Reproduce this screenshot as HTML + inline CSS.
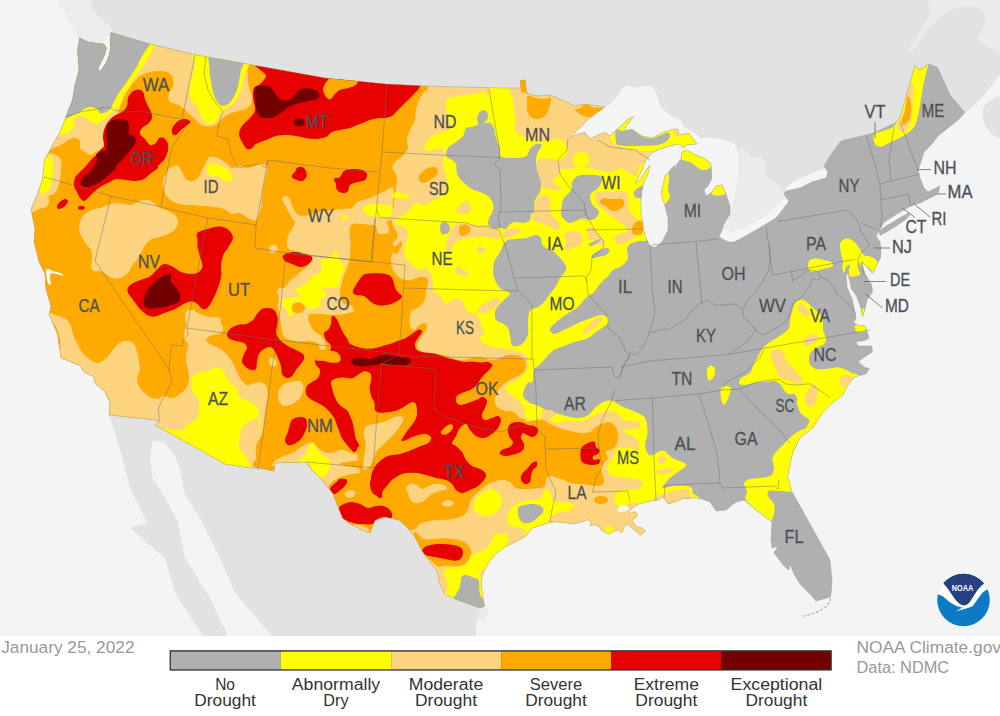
<!DOCTYPE html>
<html lang="en"><head><meta charset="utf-8"><title>U.S. Drought Monitor - January 25, 2022</title>
<style>
html,body{margin:0;padding:0;background:#fff;}
body{width:1000px;height:716px;position:relative;overflow:hidden;font-family:"Liberation Sans",sans-serif;}
</style></head><body>
<svg width="1000" height="716" viewBox="0 0 1000 716" style="position:absolute;left:0;top:0;display:block">
<defs><clipPath id="us">
<path d="M79.5,38 77.5,50 79,70 75,85 72.5,100 65.5,117.5 61,130 50,150 44.5,160 42.5,179 37.5,194 31,209 35,229 34,241.5 39,261.5 45,274 46,289 51,306.5 49,314 57.5,334 61,358 80,365.5 84,372 94,377 95,383 105,392 110,402 109,415 160,420.5 155,425 225,464 250,468 259,468 274,471 275,463 306,462 312.5,470.5 322.5,480.5 332.5,493 337.5,505.5 342.5,518 350,524 360,529 370,533 375,520.5 385,517 400,520.5 410,530.5 415,537 422.5,552 430,562 437.5,572 439,582 445,594.5 455,599 470,604.5 480,608 484.5,606 482.5,594.5 481,582 482.5,574.5 487.5,564.5 495,554.5 505,547 515,542 525,537 532.5,528 549.6,522.4 556,521.9 564,522.4 572,524 580,522.4 584.8,520.8 588,519.7 591.2,522.4 590.4,525.6 594.4,524.8 599.2,526.4 601.6,530.4 605.6,532.8 610.4,533.6 614.4,531.2 618.4,529.9 621.6,532.8 623.2,529.6 624.8,525.6 627.2,524 631.2,527.2 636,531.2 640,535.2 645.6,531.2 642.4,528 637.6,527.2 634.4,524 632,520.8 634.4,518.4 637.6,516 636,512 632.8,512 630.4,514.4 628.8,511.2 632,508.8 634.4,506.4 639.2,504 645.6,502.4 652,500.8 658.4,500 662.4,496.8 664.8,499.2 668,504 672.8,502.4 677.6,500.8 683.2,498.4 688.8,498.4 693.6,497.6 700,498.5 710,502 716,511 726,510 736,502 744,500 756,510 768,519 772,522 771,540 772,548 778,546 774,553 784,566 789,570 790,564 794,574 800,584 812,596 816,601 830,597 831,594 832,580 830,560 820,542 810,524 800,506 792,492 789,480 787.5,478 792.5,453 800,438 812.5,428 822.5,413 832.5,403 842.5,395.5 848,385 853.6,377.4 860.3,375.2 866,374 869.3,368.5 865,367.4 858,361.8 862.6,358.4 872.6,351.7 871.5,346 858,346 856,341.7 865,340.5 869,338 867,331.6 865,326 858,325 853.6,322.7 856,318 854.7,311.5 852.5,300 847,287 846,276 848,273 849.5,280 851.5,289 856.5,296 860.5,307 862.5,317 865,309 867,300 872.6,291.4 871.5,284.7 865,273.5 863,268 862,262 866,266 872.6,273.5 877,264.5 880.5,258 881,250 880,242 876,236 880,229 884,222.5 896,214.5 908,207.5 916,204 920,203 928,199 938,194 940,186 936,188 928,192 924,188 920,178 918,170 921,162 924,152 932,144 938,136 948,128 958,120 965,112.5 950,95 937.5,67.5 929,64 920,70 915,65.5 910,82.5 905,100 900,117.5 896,122.5 875,132.5 866,135 842.5,140.5 840,142 830,156 824,166 828,172 826,178 812,182 800,188 786,191 784,194 789,201 784,208 776,218 766,224 756,230 744,237 734,242 728,242 719,237 722,230 724,224 730,214 730,206 726,194 722,185 716,186 711,193 706,196 704,190 708,186 712,178 711,164 706,159 696,155 686,150 682,152 681,159 677,164 674,172 675,165 672,168 665,176 661,194 665,206 668,218 668,230 662,242 655,247.6 650,246 645,236 643,226 641,210 641,200 642,190 644,182 648,174 650,165 645,172 640,180 635,183 637,180 642,170 646,160 652,153 660,149 670,146 678,144 684,148 686,145 697,144 689,133 679,135 678,129 674,129 664,132 652,138 642,136 632,129 625,131 626,126 631,120 634,116.5 628,119 622,125 616,130 610,136 605,132 598,135 590,139 585,132.5 578,134 570,137.5 587.5,120 605,107 585,104 575,106 565,101 550,95 537.5,96 527,93.5 525,80 520.5,80 520.5,88 500,88 425,86 386,84 325,78 250,64.5 194,54.5 150,44 111,32.5 110,40 110.5,48 109,56 106,63 102,69 99.5,71.5 98,69 101,62 104.5,55 106.5,48 104,44 98,43.5 88,42Z"/>
<path d="M879,231 886,226 894,221.5 902,216.5 909,213 909.5,215.5 905,220 897,225.5 888,231 880,235.5Z"/>
</clipPath></defs>
<rect width="1000" height="636" fill="#f4f4f4"/>
<path d="M60,0 80,38 111,32.5 150,44 194,54.5 250,64.5 325,78 386,84 425,86 500,88 520.5,89 527,94.5 537.5,97 550,96 565,103 575,108 585,106 605,108 630,112 700,150 730,200 720,237 790,201 786,191 830,170 824,166 830,156 840,143 843,141 866,136 875,133.5 896,123.5 900,118 905,100 910,82.5 915,66 920,71 929,65 937,67.5 950,95 965.6,113 977,102 987,92 997,78 1000,74 1000,0Z" fill="#e2e2e2"/>
<path d="M934,-3C921.8,-0.5 932.5,6 930,12C927.5,18 922.5,26.8 919,33C915.5,39.2 910.2,46 909,49C907.8,52 909.4,53.3 912,51C914.6,48.7 920.2,40.2 924.5,35C928.8,29.8 933.4,23.7 938,19.5C942.6,15.3 946.8,12.2 952,10C957.2,7.8 964.3,5.7 969.5,6C974.7,6.3 980.4,8.8 983,12C985.6,15.2 986,20.5 985,25C984,29.5 977,35.7 977,39C977,42.3 981.7,43 985,45C988.3,47 994,48.8 997,51C1000,53.2 1002,67 1003,58C1004,49 1014.5,7.2 1003,-3C991.5,-13.2 946.2,-5.5 934,-3Z" fill="#ebebeb"/>
<path d="M983,109.5C983.7,105.7 985.7,103.9 989,102C992.3,100.1 1000.7,92.5 1003,98C1005.3,103.5 1004.7,128.8 1003,135C1001.3,141.2 996,136.7 993,135C990,133.3 986.7,129.2 985,125C983.3,120.8 982.3,113.3 983,109.5Z" fill="#e2e2e2"/>
<path d="M109,415 160,420.5 155,425 225,464 250,468 259,468 274,471 275,463 306,462 312.5,470.5 322.5,480.5 332.5,493 337.5,505.5 342.5,518 350,524 360,529 370,533 375,520.5 385,517 400,520.5 410,530.5 415,537 422.5,552 430,562 437.5,572 439,582 445,594.5 455,599 470,604.5 480,608 484.5,606 488,608.5 487.5,614.5 484,620 476.5,621.5 475.6,636 272,636 235,593 220,558 200,518 185,495 180,470 175,455 163,442 152.5,441 150,458 152.5,478 165,498 177.5,520.5 185,558 210,598 228,636 203,636 175,593 165,558 130,528 147.5,523 130,488 122.5,458 115,433Z" fill="#e2e2e2"/>
<path d="M479.8,609C480.7,607.7 482.6,607.1 484,607C485.4,606.9 487.6,607 488.2,608.3C488.8,609.6 488.2,612.6 487.5,614.6C486.8,616.6 485.9,619 484,620.2C482.1,621.4 477.7,621.8 476.3,621.6C474.9,621.4 475.2,620 475.6,618.8C476,617.6 477.7,616.2 478.4,614.6C479.1,613 478.9,610.3 479.8,609Z" fill="#ebebeb"/>
<path d="M58,-5C54,-2.2 61.8,7 64,12C66.2,17 68.5,20.7 71,25C73.5,29.3 76.2,35.2 79,38C81.8,40.8 84.8,40.8 88,42C91.2,43.2 94.2,46.5 98,45C101.8,43.5 109,36.2 111,33C113,29.8 111.8,28.5 110,26C108.2,23.5 103,21 100,18C97,15 94,11.8 92,8C90,4.2 93.7,-2.8 88,-5C82.3,-7.2 62,-7.8 58,-5Z" fill="#ececec"/>
<path d="M737,150C738.2,148.3 742.5,148.7 745,150C747.5,151.3 749.5,157 752,158C754.5,159 757.8,154.8 760,156C762.2,157.2 764,161.7 765,165C766,168.3 763.8,172.8 766,176C768.2,179.2 775,181 778,184C781,187 782.2,191.2 784,194C785.8,196.8 789.3,200 789,201C788.7,202 784.2,199.2 782,200C779.8,200.8 778.3,203.7 776,206C773.7,208.3 771.3,211.3 768,214C764.7,216.7 760,219.7 756,222C752,224.3 748,226.3 744,228C740,229.7 735.3,231.7 732,232C728.7,232.3 725.2,231 724,230C722.8,229 724.2,228.3 725,226C725.8,223.7 727.8,219.7 729,216C730.2,212.3 730.8,208.3 732,204C733.2,199.7 735,195 736,190C737,185 737.7,179 738,174C738.3,169 738.2,164 738,160C737.8,156 735.8,151.7 737,150Z" fill="#ebebeb"/>
<path d="M605,107C608.8,104.3 607.9,105.8 610,104C612.1,102.2 615,99 617.5,96C620,93 622.1,87.4 625,86C627.9,84.6 630.8,87.5 635,87.5C639.2,87.5 646.5,85.2 650,86C653.5,86.8 654.3,89.3 656,92.5C657.7,95.7 657.7,101.2 660,105C662.3,108.8 666.7,112.5 670,115C673.3,117.5 677.5,117.9 680,120C682.5,122.1 682.1,125 685,127.5C687.9,130 695,132.2 697.5,135C700,137.8 701.2,141.5 700,144C698.8,146.5 700,149 690,150C680,151 655,150.8 640,150C625,149.2 611.7,147.1 600,145C588.3,142.9 572.1,141.7 570,137.5C567.9,133.3 581.7,125.1 587.5,120C593.3,114.9 601.2,109.7 605,107Z" fill="#f5f5f5"/>
<path d="M697,140C699.3,138 701.2,138.3 704,138C706.8,137.7 710.7,137.7 714,138C717.3,138.3 720.7,139 724,140C727.3,141 731.8,142.3 734,144C736.2,145.7 736.3,147.3 737,150C737.7,152.7 737.8,156 738,160C738.2,164 738.3,169 738,174C737.7,179 737,185 736,190C735,195 733.2,199.7 732,204C730.8,208.3 730.2,212.3 729,216C727.8,219.7 726.5,222.7 725,226C723.5,229.3 722.5,235.3 720,236C717.5,236.7 713.3,236 710,230C706.7,224 703.3,213.3 700,200C696.7,186.7 690.5,160 690,150C689.5,140 694.7,142 697,140Z" fill="#f5f5f5"/>
<path d="M719,237C718.3,235 721.8,230.8 724,230C726.2,229.2 728.7,232.3 732,232C735.3,231.7 740,229.7 744,228C748,226.3 752,224.3 756,222C760,219.7 764.7,216.7 768,214C771.3,211.3 773.7,208.3 776,206C778.3,203.7 779.8,200.8 782,200C784.2,199.2 788.7,199.7 789,201C789.3,202.3 786.2,205.2 784,208C781.8,210.8 779,215.3 776,218C773,220.7 769.3,222 766,224C762.7,226 759.7,227.8 756,230C752.3,232.2 747.7,235 744,237C740.3,239 736.7,241.2 734,242C731.3,242.8 730.5,242.8 728,242C725.5,241.2 719.7,239 719,237Z" fill="#f5f5f5"/>
<path d="M784,194C784.5,193 785.3,188 789,185C792.7,182 800.2,178.7 806,176C811.8,173.3 820,169.7 824,169C828,168.3 829.7,170.5 830,172C830.3,173.5 829,176.3 826,178C823,179.7 816.3,180.3 812,182C807.7,183.7 804.3,186.5 800,188C795.7,189.5 788.7,190 786,191C783.3,192 783.5,195 784,194Z" fill="#f5f5f5"/>
<path d="M79.5,38 77.5,50 79,70 75,85 72.5,100 65.5,117.5 61,130 50,150 44.5,160 42.5,179 37.5,194 31,209 35,229 34,241.5 39,261.5 45,274 46,289 51,306.5 49,314 57.5,334 61,358 80,365.5 84,372 94,377 95,383 105,392 110,402 109,415 160,420.5 155,425 225,464 250,468 259,468 274,471 275,463 306,462 312.5,470.5 322.5,480.5 332.5,493 337.5,505.5 342.5,518 350,524 360,529 370,533 375,520.5 385,517 400,520.5 410,530.5 415,537 422.5,552 430,562 437.5,572 439,582 445,594.5 455,599 470,604.5 480,608 484.5,606 482.5,594.5 481,582 482.5,574.5 487.5,564.5 495,554.5 505,547 515,542 525,537 532.5,528 549.6,522.4 556,521.9 564,522.4 572,524 580,522.4 584.8,520.8 588,519.7 591.2,522.4 590.4,525.6 594.4,524.8 599.2,526.4 601.6,530.4 605.6,532.8 610.4,533.6 614.4,531.2 618.4,529.9 621.6,532.8 623.2,529.6 624.8,525.6 627.2,524 631.2,527.2 636,531.2 640,535.2 645.6,531.2 642.4,528 637.6,527.2 634.4,524 632,520.8 634.4,518.4 637.6,516 636,512 632.8,512 630.4,514.4 628.8,511.2 632,508.8 634.4,506.4 639.2,504 645.6,502.4 652,500.8 658.4,500 662.4,496.8 664.8,499.2 668,504 672.8,502.4 677.6,500.8 683.2,498.4 688.8,498.4 693.6,497.6 700,498.5 710,502 716,511 726,510 736,502 744,500 756,510 768,519 772,522 771,540 772,548 778,546 774,553 784,566 789,570 790,564 794,574 800,584 812,596 816,601 830,597 831,594 832,580 830,560 820,542 810,524 800,506 792,492 789,480 787.5,478 792.5,453 800,438 812.5,428 822.5,413 832.5,403 842.5,395.5 848,385 853.6,377.4 860.3,375.2 866,374 869.3,368.5 865,367.4 858,361.8 862.6,358.4 872.6,351.7 871.5,346 858,346 856,341.7 865,340.5 869,338 867,331.6 865,326 858,325 853.6,322.7 856,318 854.7,311.5 852.5,300 847,287 846,276 848,273 849.5,280 851.5,289 856.5,296 860.5,307 862.5,317 865,309 867,300 872.6,291.4 871.5,284.7 865,273.5 863,268 862,262 866,266 872.6,273.5 877,264.5 880.5,258 881,250 880,242 876,236 880,229 884,222.5 896,214.5 908,207.5 916,204 920,203 928,199 938,194 940,186 936,188 928,192 924,188 920,178 918,170 921,162 924,152 932,144 938,136 948,128 958,120 965,112.5 950,95 937.5,67.5 929,64 920,70 915,65.5 910,82.5 905,100 900,117.5 896,122.5 875,132.5 866,135 842.5,140.5 840,142 830,156 824,166 828,172 826,178 812,182 800,188 786,191 784,194 789,201 784,208 776,218 766,224 756,230 744,237 734,242 728,242 719,237 722,230 724,224 730,214 730,206 726,194 722,185 716,186 711,193 706,196 704,190 708,186 712,178 711,164 706,159 696,155 686,150 682,152 681,159 677,164 674,172 675,165 672,168 665,176 661,194 665,206 668,218 668,230 662,242 655,247.6 650,246 645,236 643,226 641,210 641,200 642,190 644,182 648,174 650,165 645,172 640,180 635,183 637,180 642,170 646,160 652,153 660,149 670,146 678,144 684,148 686,145 697,144 689,133 679,135 678,129 674,129 664,132 652,138 642,136 632,129 625,131 626,126 631,120 634,116.5 628,119 622,125 616,130 610,136 605,132 598,135 590,139 585,132.5 578,134 570,137.5 587.5,120 605,107 585,104 575,106 565,101 550,95 537.5,96 527,93.5 525,80 520.5,80 520.5,88 500,88 425,86 386,84 325,78 250,64.5 194,54.5 150,44 111,32.5 110,40 110.5,48 109,56 106,63 102,69 99.5,71.5 98,69 101,62 104.5,55 106.5,48 104,44 98,43.5 88,42Z" fill="#b0b0b0"/>
<path d="M879,231 886,226 894,221.5 902,216.5 909,213 909.5,215.5 905,220 897,225.5 888,231 880,235.5Z" fill="#b0b0b0"/>
<g clip-path="url(#us)">
<path d="M-10,-10C111.7,-120 600.8,-28.3 720,-10C839.2,8.3 707.5,73.7 705,100C702.5,126.3 708.7,139.8 705,148C701.3,156.2 689.8,148.3 683,149C676.2,149.7 668.7,150.2 664,152C659.3,153.8 657,156.2 655,160C653,163.8 652.8,168.3 652,175C651.2,181.7 650.7,189.7 650,200C649.3,210.3 650,230.2 648,237C646,243.8 641,239.8 638,241C635,242.2 631.8,242.5 630,244C628.2,245.5 627.3,247.7 627,250C626.7,252.3 628.5,255.7 628,258C627.5,260.3 625.7,262.3 624,264C622.3,265.7 619.8,267 618,268C616.2,269 614.7,268.7 613,270C611.3,271.3 610.2,273.7 608,276C605.8,278.3 602.3,281.3 600,284C597.7,286.7 596,290 594,292C592,294 589.7,294.7 588,296C586.3,297.3 585.7,298.2 584,300C582.3,301.8 580.3,305 578,307C575.7,309 573,310 570,312C567,314 563,316.7 560,319C557,321.3 553.7,324.2 552,326C550.3,327.8 549.7,328.7 550,330C550.3,331.3 551.7,334 554,334C556.3,334 561,331.3 564,330C567,328.7 569.7,327.2 572,326C574.3,324.8 575.7,324 578,323C580.3,322 583.3,321 586,320C588.7,319 591.3,317.8 594,317C596.7,316.2 599.7,314.8 602,315C604.3,315.2 607,316.7 608,318C609,319.3 609,321.3 608,323C607,324.7 604,326.5 602,328C600,329.5 598,330.5 596,332C594,333.5 592.3,335.7 590,337C587.7,338.3 584.7,339.2 582,340C579.3,340.8 577,341 574,342C571,343 567,344.8 564,346C561,347.2 558.5,347.7 556,349C553.5,350.3 551,352.2 549,354C547,355.8 545.8,358 544,360C542.2,362 539.7,364.3 538,366C536.3,367.7 534.9,367.3 534,370C533.1,372.7 533.5,379.8 532.4,382C531.3,384.2 529.1,380.8 527.5,383C525.9,385.2 522.6,392.2 523,395.5C523.4,398.8 527.6,401.3 530,403C532.4,404.7 534.2,404 537.5,405.5C540.8,407 546.2,410.4 550,411.8C553.8,413.2 555.8,413.2 560,414.2C564.2,415.2 570.4,417.8 575,418C579.6,418.2 583.8,417.6 587.5,415.5C591.2,413.4 593.8,408 597.5,405.5C601.2,403 605.8,400.3 610,400.5C614.2,400.7 618.3,404.9 622.5,406.8C626.7,408.7 631.2,409.9 635,411.8C638.8,413.7 642.9,414.5 645,418C647.1,421.5 647.5,428.4 647.5,433C647.5,437.6 644.6,441.8 645,445.5C645.4,449.2 647.1,454.7 650,455.5C652.9,456.3 658.8,450.1 662.5,450.5C666.2,450.9 668.5,455.7 672.5,458C676.5,460.3 685,462.1 686.2,464.2C687.5,466.3 682.7,468.2 680,470.5C677.3,472.8 672.9,475.1 670,478C667.1,480.9 661.7,486.8 662.5,488C663.3,489.2 670.4,485.7 675,485.5C679.6,485.3 687.1,485.6 690,486.8C692.9,488.1 692.2,489.1 692.5,493C692.8,496.9 707.4,492.2 692,510C676.6,527.8 632,576.7 600,600C568,623.3 601.7,641.7 500,650C398.3,658.3 75,760 -10,650C-95,540 -131.7,100 -10,-10Z" fill="#ffff00"/>
<path d="M796,302C797.3,300.9 800,299.4 802,299.6C804,299.8 806,301.4 808,303C810,304.6 812,307.2 814,309C816,310.8 818.5,311.8 820,314C821.5,316.2 822.5,319.3 823,322C823.5,324.7 822.5,327.3 823,330C823.5,332.7 825.8,335.7 826,338C826.2,340.3 825.3,342.5 824,344C822.7,345.5 820,345.8 818,347C816,348.2 813.5,349.3 812,351C810.5,352.7 809.3,354.8 809,357C808.7,359.2 808.8,362 810,364C811.2,366 813.3,368.2 816,369C818.7,369.8 822.7,369.2 826,369C829.3,368.8 833,367.6 836,367.6C839,367.6 841.3,368.1 844,369C846.7,369.9 849.7,372 852,373C854.3,374 856,373.5 858,375C860,376.5 866.3,377.5 864,382C861.7,386.5 850,396.7 844,402C838,407.3 832.7,409.3 828,414C823.3,418.7 819,426.8 816,430C813,433.2 812.3,432.7 810,433.2C807.7,433.7 802.3,434.4 802,433.2C801.7,432 806.8,428.2 808,426C809.2,423.8 809.7,421.7 809,420C808.3,418.3 805.5,417.3 804,416C802.5,414.7 801.2,414 800,412C798.8,410 797.5,406.3 797,404C796.5,401.7 797.5,399.7 797,398C796.5,396.3 795.5,394.7 794,394C792.5,393.3 789.7,394.7 788,394C786.3,393.3 785.3,391.7 784,390C782.7,388.3 781.7,385.5 780,384C778.3,382.5 776.3,381.3 774,381C771.7,380.7 768.7,381.8 766,382C763.3,382.2 760.7,382.1 758,382.4C755.3,382.7 752.5,383.6 750,384C747.5,384.4 744.8,385.2 743,385C741.2,384.8 739.2,384.2 739,383C738.8,381.8 740.2,379.7 742,378C743.8,376.3 748.2,375 750,373C751.8,371 751.8,368.5 753,366C754.2,363.5 755.3,361 757,358C758.7,355 760.8,350.7 763,348C765.2,345.3 767.5,343.8 770,342C772.5,340.2 775.7,338.5 778,337C780.3,335.5 782.2,334.5 784,333C785.8,331.5 788,330.2 789,328C790,325.8 789.5,322.7 790,320C790.5,317.3 791.3,314.3 792,312C792.7,309.7 793.3,307.7 794,306C794.7,304.3 794.7,303.1 796,302Z" fill="#ffff00"/>
<path d="M721,391C721.7,388.7 724.3,388.5 726,388C727.7,387.5 730.5,386.7 731,388C731.5,389.3 730,393.3 729,396C728,398.7 726.2,403 725,404C723.8,405 722.7,404.2 722,402C721.3,399.8 720.3,393.3 721,391Z" fill="#ffff00"/>
<path d="M861.2,310C861.6,308.6 863,308.1 863.6,308.6C864.2,309.1 864.9,311.4 864.8,313C864.7,314.6 863.8,317.7 863.2,318.4C862.6,319.1 861.5,318.4 861.2,317C860.9,315.6 860.8,311.4 861.2,310Z" fill="#ffff00"/>
<path d="M854.4,320C854.6,319.5 855.9,318.9 856.4,319.2C856.9,319.5 857.4,321.1 857.2,321.6C857,322.1 855.7,322.7 855.2,322.4C854.7,322.1 854.2,320.5 854.4,320Z" fill="#ffff00"/>
<path d="M855,326C855.7,324.8 858.3,324.1 860,324C861.7,323.9 864.1,324.4 865,325.6C865.9,326.8 866.4,329.9 865.6,331C864.8,332.1 861.6,332.4 860,332.4C858.4,332.4 856.8,332.1 856,331C855.2,329.9 854.3,327.2 855,326Z" fill="#ffff00"/>
<path d="M744,483C744.5,480.8 747.3,479.8 750,479C752.7,478.2 756.5,478.6 760,478C763.5,477.4 768.7,477.2 771,475.5C773.3,473.8 773.8,470.9 774,468C774.2,465.1 771.9,460.9 772.5,458C773.1,455.1 775.4,453 777.5,450.5C779.6,448 782.5,445.5 785,443C787.5,440.5 790,437.6 792.5,435.5C795,433.4 797.8,431.8 800,430.5C802.2,429.2 804,429.8 806,428C808,426.2 806.3,424.7 812,420C817.7,415.3 833.7,400 840,400C846.3,400 851.7,413.3 850,420C848.3,426.7 836.7,430 830,440C823.3,450 815.7,471.3 810,480C804.3,488.7 799,490 796,492C793,494 794.7,492.2 792,492C789.3,491.8 783.8,491.2 780,491C776.2,490.8 771,490.2 769,491C767,491.8 767.2,493.8 768,496C768.8,498.2 773,501 774,504C775,507 774.5,511.2 774,514C773.5,516.8 772.5,518.8 771,521C769.5,523.2 767.5,527.5 765,527C762.5,526.5 756.8,520.2 756,518C755.2,515.8 761.7,517 760,514C758.3,511 748.2,503.7 746,500C743.8,496.3 747.3,494.8 747,492C746.7,489.2 743.5,485.2 744,483Z" fill="#ffff00"/>
<path d="M707.5,368C708.2,366.6 710,365.3 711.2,365.5C712.5,365.7 714.6,367.3 715,369.2C715.4,371.1 714.8,374.9 713.8,376.8C712.8,378.7 709.9,380.9 708.8,380.5C707.7,380.1 707.2,376.3 707,374.2C706.8,372.1 706.8,369.4 707.5,368Z" fill="#ffff00"/>
<path d="M721.2,388C722,386 724.7,386 726.2,386C727.7,386 729.8,386 730,388C730.2,390 728.5,395.3 727.5,398C726.5,400.7 724.8,404.2 723.8,404.2C722.8,404.2 721.6,400.7 721.2,398C720.8,395.3 720.4,390 721.2,388Z" fill="#ffff00"/>
<path d="M740,379.2C740.4,377.8 744.3,376 746.2,375.5C748.1,375 750.6,374.9 751.2,376C751.8,377.1 751.2,380.4 750,381.8C748.8,383.2 745.5,384.6 743.8,384.2C742.1,383.8 739.6,380.6 740,379.2Z" fill="#ffff00"/>
<path d="M808,265.2C808,263.4 808.6,261.3 810,260.2C811.4,259.1 813.7,258.5 816.2,258.5C818.7,258.5 822.3,259.5 825,260.2C827.7,260.9 831.3,261.8 832.5,262.8C833.7,263.9 833.2,265.6 832,266.5C830.8,267.4 827.6,267.8 825,268.5C822.4,269.2 818.7,270.6 816.2,271C813.7,271.4 811.4,272 810,271C808.6,270 808,267 808,265.2Z" fill="#ffff00"/>
<path d="M840,244C840.4,241.6 842.1,240.3 843.8,239.5C845.5,238.7 847.9,238.2 850,239C852.1,239.8 854.3,241.9 856.2,244C858.1,246.1 859.9,249.6 861.2,251.5C862.5,253.4 862.3,254.4 863.8,255.2C865.3,256 867.9,255.7 870,256.5C872.1,257.3 874.9,258.8 876.2,260.2C877.5,261.6 878.2,263.5 878,265.2C877.8,266.9 875.8,268.7 875,270.2C874.2,271.7 873.8,274.2 873,274C872.2,273.8 871.6,270.2 870.5,269C869.4,267.8 867.8,267.4 866.2,267C864.7,266.6 862.4,267.4 861.2,266.5C860,265.6 859.4,261.5 858.8,261.5C858.2,261.5 857.3,264.4 857.5,266.5C857.7,268.6 860.4,272.4 860,274C859.6,275.6 856.7,275.6 855,276C853.3,276.4 851,277.2 850,276.5C849,275.8 848.8,273.4 848.8,271.5C848.8,269.6 850.4,266 850,265.2C849.6,264.4 847.1,265.2 846.2,266.5C845.3,267.8 845.1,272.4 844.5,272.8C843.9,273.2 842.8,270.9 842.5,269C842.2,267.1 843.2,264 843,261.5C842.8,259 841.7,256.9 841.2,254C840.7,251.1 839.6,246.4 840,244Z" fill="#ffff00"/>
<path d="M913.8,62.5C915.3,62.5 917.6,69.8 920,70C922.4,70.2 927.2,62.5 928,63.8C928.8,65 925.9,73.1 925,77.5C924.1,81.9 923.3,85.4 922.5,90C921.7,94.6 920.8,100.4 920,105C919.2,109.6 918.5,113.8 917.5,117.5C916.5,121.2 915.9,124.6 913.8,127.5C911.7,130.4 907.7,133.1 905,135C902.3,136.9 900,137.6 897.5,138.8C895,140.1 892.5,141.3 890,142.5C887.5,143.7 884.8,145.7 882.5,146.2C880.2,146.7 877.7,146.5 876.2,145.5C874.8,144.5 874.1,141.9 873.8,140C873.5,138.1 872.8,135.3 874.2,133.8C875.7,132.3 879.5,132.2 882.5,131.2C885.5,130.1 890.2,128.9 892.5,127.5C894.8,126 895,124.6 896.2,122.5C897.5,120.4 898.7,118.3 900,115C901.3,111.7 902.8,106.7 903.8,102.5C904.8,98.3 905.4,94.2 906.2,90C907,85.8 908,80.8 908.8,77.5C909.6,74.2 910.4,72.5 911.2,70C912,67.5 912.3,62.5 913.8,62.5Z" fill="#ffff00"/>
<path d="M680,153C680.5,151.3 682.3,149.3 684,149C685.7,148.7 688,150.2 690,151C692,151.8 693.3,152.8 696,154C698.7,155.2 703.3,156.6 706,158C708.7,159.4 711.3,160.7 712,162.4C712.7,164.1 711.7,166.7 710,168C708.3,169.3 704.2,170.2 702,170C699.8,169.8 698.7,168.2 697,167C695.3,165.8 693.8,164 692,163C690.2,162 687.8,161.7 686,161C684.2,160.3 682,160.3 681,159C680,157.7 679.5,154.7 680,153Z" fill="#ffff00"/>
<path d="M663,174C663.8,172.5 667,170 668,171C669,172 669,176.8 669,180C669,183.2 667.8,187.3 668,190C668.2,192.7 670.2,194 670,196C669.8,198 668.2,200.7 667,202C665.8,203.3 664.2,205.3 663,204C661.8,202.7 660.3,197 660,194C659.7,191 660.5,188.3 661,186C661.5,183.7 662.7,182 663,180C663.3,178 662.2,175.5 663,174Z" fill="#ffff00"/>
<path d="M712,190C712.6,188.6 714.5,186.9 716,186C717.5,185.1 719.6,184 721,184.4C722.4,184.8 723.7,186.8 724.4,188.4C725.1,190 726.1,192.8 725,194C723.9,195.2 720.1,195.5 718,195.6C715.9,195.7 713.4,195.3 712.4,194.4C711.4,193.5 711.4,191.4 712,190Z" fill="#ffff00"/>
<path d="M538,160C541.2,157.7 552.3,158.5 556,160C559.7,161.5 559.7,166.3 560,169C560.3,171.7 559.2,174.2 558,176C556.8,177.8 553.3,178.5 553,180C552.7,181.5 554.5,183.5 556,185C557.5,186.5 562,188.2 562,189C562,189.8 558.7,190.2 556,190C553.3,189.8 548.7,189 546,188C543.3,187 541.5,186.3 540,184C538.5,181.7 537.3,178 537,174C536.7,170 534.8,162.3 538,160Z" fill="#fcd37f"/>
<path d="M537,198C538.3,195.5 541,195.2 543,195C545,194.8 547.8,194.8 549,197C550.2,199.2 549.5,204.8 550,208C550.5,211.2 550.8,214 552,216C553.2,218 555.7,218.3 557,220C558.3,221.7 559.8,224.3 560,226C560.2,227.7 559.7,229.8 558,230C556.3,230.2 552.5,228 550,227C547.5,226 545.5,225 543,224C540.5,223 536.8,222.3 535,221C533.2,219.7 532,217.8 532,216C532,214.2 534.2,213 535,210C535.8,207 535.7,200.5 537,198Z" fill="#fcd37f"/>
<path d="M502,234C502.3,232.7 505.7,231 508,230C510.3,229 514,227.8 516,228C518,228.2 520.3,229.8 520,231C519.7,232.2 516.3,233.8 514,235C511.7,236.2 508,238.2 506,238C504,237.8 501.7,235.3 502,234Z" fill="#fcd37f"/>
<path d="M564,234C565,232.5 569.3,231.2 572,231C574.7,230.8 578.3,231.5 580,233C581.7,234.5 582.4,238 582.4,240C582.4,242 581.7,243.7 580,245C578.3,246.3 574,246.8 572,248C570,249.2 569.2,252.3 568,252C566.8,251.7 565.3,248 565,246C564.7,244 566.2,242 566,240C565.8,238 563,235.5 564,234Z" fill="#fcd37f"/>
<path d="M596,193C597.3,191.2 601.3,191.2 604,191C606.7,190.8 609.3,192 612,192C614.7,192 617.5,190.8 620,191C622.5,191.2 625.5,191.5 627,193C628.5,194.5 628.8,197.5 629,200C629.2,202.5 627.5,205.7 628,208C628.5,210.3 630.3,212 632,214C633.7,216 636.3,218.7 638,220C639.7,221.3 641.7,219.7 642.4,222C643.1,224.3 643.1,231.7 642.4,234C641.7,236.3 640.1,235 638,236C635.9,237 632.7,238.7 630,240C627.3,241.3 624.3,243.5 622,244C619.7,244.5 617.3,244 616,243C614.7,242 613.3,239.5 614,238C614.7,236.5 617.7,235.3 620,234C622.3,232.7 628,232 628,230C628,228 622.7,224.2 620,222C617.3,219.8 614.3,218.7 612,217C609.7,215.3 608,213.7 606,212C604,210.3 601.7,208.7 600,207C598.3,205.3 596.7,204.3 596,202C595.3,199.7 594.7,194.8 596,193Z" fill="#fcd37f"/>
<path d="M587.6,229C588.3,227.2 590.6,226.7 592,227C593.4,227.3 594.7,229.5 596,231C597.3,232.5 598.7,234.3 600,236C601.3,237.7 603.5,239.5 604,241C604.5,242.5 604,244.5 603,245C602,245.5 599.7,244.7 598,244C596.3,243.3 594.7,242 593,241C591.3,240 588.9,240 588,238C587.1,236 586.9,230.8 587.6,229Z" fill="#fcd37f"/>
<path d="M583,331C583.8,329.7 586.2,327.8 588,326C589.8,324.2 592,321.5 594,320C596,318.5 598.6,317.2 600,317C601.4,316.8 602.7,317.8 602.4,319C602.1,320.2 599.7,322.3 598,324C596.3,325.7 594,327.3 592,329C590,330.7 587.5,333.2 586,334C584.5,334.8 583.5,334.5 583,334C582.5,333.5 582.2,332.3 583,331Z" fill="#fcd37f"/>
<path d="M-10,-10C73.2,-120 405.8,-26.5 489,-10C572.2,6.5 489.8,72 489,89C488.2,106 487.5,91 484,92C480.5,93 473,94.2 468,95C463,95.8 457.5,96.2 454,97C450.5,97.8 448.3,98.2 447,100C445.7,101.8 445.8,105 446,108C446.2,111 447.2,115 448,118C448.8,121 451.3,123.8 451,126C450.7,128.2 448.5,129.7 446,131C443.5,132.3 438.7,132.8 436,134C433.3,135.2 431.7,136.3 430,138C428.3,139.7 427,142.3 426,144C425,145.7 423.7,146.8 424,148C424.3,149.2 426,150.8 428,151C430,151.2 433.7,149.5 436,149C438.3,148.5 440.5,147.2 442,148C443.5,148.8 444.8,152 445,154C445.2,156 443.2,157.7 443,160C442.8,162.3 443.5,165.3 444,168C444.5,170.7 445.5,173.3 446,176C446.5,178.7 447,181.3 447,184C447,186.7 446.3,192.9 446,192C445.7,191.1 445.1,179.3 445.1,178.4C445.1,177.5 446.2,184.2 445.8,186.8C445.4,189.4 444.2,191.9 443,193.8C441.8,195.7 440.4,196.9 438.8,198C437.2,199.1 435.1,199.2 433.2,200.1C431.3,201 429.2,202.8 427.6,203.6C426,204.4 425,205.1 423.4,205C421.8,204.9 419.4,203 417.8,202.9C416.2,202.8 414.9,203.2 413.6,204.3C412.3,205.4 411.5,207.7 410.1,209.2C408.7,210.7 406.9,212.1 405.2,213.4C403.4,214.7 401.5,216 399.6,216.9C397.7,217.8 394.5,217.7 394,219C393.5,220.3 395.1,223.2 396.8,224.6C398.6,226 402.6,226.2 404.5,227.4C406.4,228.6 407.6,229.5 408,231.6C408.4,233.7 407.2,237.2 406.6,240C406,242.8 404.7,245.6 404.5,248.4C404.3,251.2 404.1,254.2 405.2,256.8C406.2,259.4 408.9,261.9 410.8,263.8C412.7,265.7 414.5,266.9 416.4,268C418.3,269.1 420.7,270.4 422,270.2C423.3,270 423,267 424,267C425,267 426.7,268.5 428,270C429.3,271.5 431.2,273.3 432,276C432.8,278.7 432.7,283.3 433,286C433.3,288.7 432.5,290 434,292C435.5,294 440,296 442,298C444,300 444.3,303.7 446,304C447.7,304.3 449.7,300.8 452,300C454.3,299.2 458,298.3 460,299C462,299.7 462.7,301.8 464,304C465.3,306.2 466,310.3 468,312C470,313.7 474,312.3 476,314C478,315.7 478.7,318.8 480,322C481.3,325.2 484,330.5 484,333.2C484,335.9 480,336.2 480,338C480,339.8 482,342.5 484,344C486,345.5 489,346.3 492,347C495,347.7 498.7,347.5 502,348C505.3,348.5 509,349.3 512,350C515,350.7 517.8,351.2 520,352C522.2,352.8 523.7,353.3 525,355C526.3,356.7 527.7,359.5 528,362C528.3,364.5 528.3,367.3 527,370C525.7,372.7 522.5,376 520,378C517.5,380 514.3,380.7 512,382C509.7,383.3 506.7,384.3 506,386C505.3,387.7 506.7,390.2 508,392C509.3,393.8 512,395.3 514,397C516,398.7 518.3,399.8 520,402C521.7,404.2 523,407.3 524,410C525,412.7 525,416.3 526,418C527,419.7 527.7,420 530,420C532.3,420 538,419.3 540,418C542,416.7 540.3,413.3 542,412C543.7,410.7 547.7,409.7 550,410C552.3,410.3 556,412.3 556,414C556,415.7 549.7,418.5 550,420C550.3,421.5 555.3,422.8 558,423C560.7,423.2 563,421.2 566,421C569,420.8 572.7,422.2 576,422C579.3,421.8 583,421 586,420C589,419 591.3,417.3 594,416C596.7,414.7 599.3,412.8 602,412C604.7,411.2 607.3,410.7 610,411C612.7,411.3 615.7,412.5 618,414C620.3,415.5 621.3,418.8 624,420C626.7,421.2 631.3,420.5 634,421C636.7,421.5 639.2,421.8 640,423C640.8,424.2 640.7,427 639,428C637.3,429 632.5,428.3 630,429C627.5,429.7 623.3,430.7 624,432C624.7,433.3 631.5,435.2 634,437C636.5,438.8 638.3,440.8 639,443C639.7,445.2 639.5,449.2 638,450C636.5,450.8 633.3,448.3 630,448C626.7,447.7 620.7,446.7 618,448C615.3,449.3 615.7,453.3 614,456C612.3,458.7 609,461.3 608,464C607,466.7 607,470 608,472C609,474 611,475 614,476C617,477 622.3,477.5 626,478C629.7,478.5 633.3,478.3 636,479C638.7,479.7 641.3,480.5 642,482C642.7,483.5 641.3,486.7 640,488C638.7,489.3 636,489.7 634,490C632,490.3 630.3,489.3 628,490C625.7,490.7 622,492.5 620,494C618,495.5 616.3,497.3 616,499C615.7,500.7 616.3,503.5 618,504C619.7,504.5 623,502.2 626,502C629,501.8 632.7,502.7 636,503C639.3,503.3 643.3,504.3 646,504C648.7,503.7 650.3,502.3 652,501C653.7,499.7 654,497.2 656,496C658,494.8 661.7,494.7 664,494C666.3,493.3 666.2,492.8 670,492C673.8,491.2 683.7,488.3 687,489C690.3,489.7 689.8,492.5 690,496C690.2,499.5 703,492.7 688,510C673,527.3 631.3,576.7 600,600C568.7,623.3 601.7,641.7 500,650C398.3,658.3 75,760 -10,650C-95,540 -93.2,100 -10,-10Z" fill="#fcd37f"/>
<path d="M511,80C503.2,83.3 512.5,95 513,100C513.5,105 513.5,106.7 514,110C514.5,113.3 516,117.2 516,120C516,122.8 513.8,124.8 514,127C514.2,129.2 515.3,131.3 517,133C518.7,134.7 521.5,136 524,137C526.5,138 529.3,138.2 532,139C534.7,139.8 537,141.8 540,142C543,142.2 546.7,140.5 550,140C553.3,139.5 557.7,138.5 560,139C562.3,139.5 562.7,141.2 564,143C565.3,144.8 567.4,147.7 567.6,150C567.8,152.3 566.3,155.3 565,157C563.7,158.7 561.2,158.2 560,160C558.8,161.8 556.7,166.5 558,168C559.3,169.5 564.3,169.1 568,169C571.7,168.9 575.7,167.6 580,167.6C584.3,167.6 589.3,168.3 594,169C598.7,169.7 604.3,171.8 608,172C611.7,172.2 614,170.7 616,170C618,169.3 618,167.7 620,168C622,168.3 625.3,170.7 628,172C630.7,173.3 634,177 636,176C638,175 638.2,168.7 640,166C641.8,163.3 644.7,162.7 647,160C649.3,157.3 653.8,151.5 654,150C654.2,148.5 651,151 648,151C645,151 640,150.5 636,150C632,149.5 627.3,148.8 624,148C620.7,147.2 618.2,146.3 616,145C613.8,143.7 612.2,142 611,140C609.8,138 608.8,135.5 609,133C609.2,130.5 610.2,130.5 612,125C613.8,119.5 628.7,107.5 620,100C611.3,92.5 578.2,83.3 560,80C541.8,76.7 518.8,76.7 511,80Z" fill="#fcd37f"/>
<path d="M797,307C797,305.7 798.7,304 800,304C801.3,304 803.5,305.7 805,307C806.5,308.3 808.2,310.5 809,312C809.8,313.5 810.7,315.4 810,316C809.3,316.6 806.7,316.3 805,315.6C803.3,314.9 801.3,313.4 800,312C798.7,310.6 797,308.3 797,307Z" fill="#fcd37f"/>
<path d="M804,341C804.5,339.3 806.3,337.2 808,336C809.7,334.8 812.3,333.9 814,334C815.7,334.1 817.7,335.1 818,336.4C818.3,337.7 817.3,340.2 816,341.6C814.7,343 811.8,344.3 810,345C808.2,345.7 806,346.7 805,346C804,345.3 803.5,342.7 804,341Z" fill="#fcd37f"/>
<path d="M770,356C770.2,353.8 772.3,351.2 774,350C775.7,348.8 778.3,348.5 780,349C781.7,349.5 783,351.2 784,353C785,354.8 784.7,357.7 786,360C787.3,362.3 790,364.7 792,367C794,369.3 796.3,372 798,374C799.7,376 801.5,377.3 802,379C802.5,380.7 802.2,383.3 801,384C799.8,384.7 797.2,383.7 795,383C792.8,382.3 790.5,381 788,380C785.5,379 782,378.7 780,377C778,375.3 777.2,372.3 776,370C774.8,367.7 774,365.3 773,363C772,360.7 769.8,358.2 770,356Z" fill="#fcd37f"/>
<path d="M805,402C804.5,399.8 805.2,396.3 806,394C806.8,391.7 808.7,389.7 810,388C811.3,386.3 812.7,383.7 814,384C815.3,384.3 817.1,387.7 817.6,390C818.1,392.3 817.6,395.5 817,398C816.4,400.5 815.3,403.5 814,405C812.7,406.5 810.5,407.5 809,407C807.5,406.5 805.5,404.2 805,402Z" fill="#fcd37f"/>
<path d="M840,378C840.5,376.5 842.3,375.3 844,375C845.7,374.7 848.7,375.3 850,376C851.3,376.7 852.3,377.8 852,379C851.7,380.2 849.3,381.5 848,383C846.7,384.5 845.2,387.8 844,388C842.8,388.2 841.7,385.7 841,384C840.3,382.3 839.5,379.5 840,378Z" fill="#fcd37f"/>
<path d="M907,85C907.8,82.9 910.1,82.1 911.2,82.5C912.3,82.9 913.5,84.6 913.8,87.5C914.1,90.4 913.3,95.8 913,100C912.7,104.2 912.5,108.3 912,112.5C911.5,116.7 911.4,121.7 910,125C908.6,128.3 905.7,131.7 903.8,132.5C901.9,133.3 899.8,131.4 898.8,130C897.8,128.6 897.1,125.9 897.5,123.8C897.9,121.7 900,120.2 901.2,117.5C902.5,114.8 904.2,111.2 905,107.5C905.8,103.8 905.9,98.8 906.2,95C906.5,91.2 906.2,87.1 907,85Z" fill="#fcd37f"/>
<path d="M-10,-10C63,-120 355,-16.7 428,-10C501,-3.3 428,18.3 428,30C428,41.7 428,50.5 428,60C428,69.5 428.7,81.7 428,87C427.3,92.3 425.5,89.8 424,92C422.5,94.2 420.3,97 419,100C417.7,103 416.7,106.7 416,110C415.3,113.3 416,116.7 415,120C414,123.3 411.3,126.7 410,130C408.7,133.3 407.3,137 407,140C406.7,143 408.5,145.7 408,148C407.5,150.3 405.3,152.3 404,154C402.7,155.7 401.5,156.7 400,158C398.5,159.3 396.3,160.3 395,162C393.7,163.7 392.2,166 392.4,168C392.6,170 395.2,171.7 396,174C396.8,176.3 397,179.7 397,182C397,184.3 396.8,181.7 396,188C395.2,194.3 392.4,213.6 392,220C391.6,226.4 392.9,224.5 393.6,226.4C394.3,228.3 395.3,229.7 396,231.2C396.7,232.7 397.6,233.7 397.6,235.2C397.6,236.7 396.8,238.8 396,240C395.2,241.2 393.1,241.3 392.8,242.4C392.5,243.5 393.5,246.1 394.4,246.4C395.3,246.7 397.4,244.8 398.4,244C399.4,243.2 399.9,241.3 400.5,241.3C401.1,241.3 402.2,242.6 402.1,244C402,245.4 401,247.9 400,249.6C399,251.3 397.2,253.9 396,254.4C394.8,254.9 393.6,252.3 392.8,252.8C392,253.3 391.5,255.7 391.2,257.6C390.9,259.5 390.8,261.9 391.2,264C391.6,266.1 392.5,268.4 393.6,270.4C394.7,272.4 396.1,274.5 397.6,276C399.1,277.5 400.5,278.5 402.4,279.2C404.3,279.9 406.7,280.1 408.8,280C410.9,279.9 413.1,278.9 415.2,278.4C417.3,277.9 419.6,276.8 421.6,276.8C423.6,276.8 426.1,277.3 427.2,278.4C428.3,279.5 428.1,281.3 428,283.2C427.9,285.1 426.8,287.5 426.4,289.6C426,291.7 426.1,293.9 425.6,296C425.1,298.1 424.4,300.5 423.2,302.4C422,304.3 420.3,305.9 418.4,307.2C416.5,308.5 413.3,309.3 412,310.4C410.7,311.5 410.6,313.6 410.4,313.9C410.2,314.2 411.1,311 411,312C410.9,313 409.7,317.5 409.6,320C409.5,322.5 409.6,325.3 410.4,327C411.2,328.7 412.8,330.4 414.4,330C416,329.6 418.1,325.5 420,324.4C421.9,323.3 424.4,323 425.6,323.6C426.8,324.2 427.3,326.4 427,328C426.7,329.6 425.2,331.2 424,333C422.8,334.8 421.2,337 420,339C418.8,341 417.2,343.2 417,345C416.8,346.8 417.5,348.8 419,350C420.5,351.2 423.2,351.7 426,352.4C428.8,353.1 433,353.6 436,354C439,354.4 441.3,354.3 444,355C446.7,355.7 449.3,357.2 452,358C454.7,358.8 457.3,359.8 460,360C462.7,360.2 465.3,359.5 468,359C470.7,358.5 473.3,357.2 476,357C478.7,356.8 481.3,357.5 484,358C486.7,358.5 489.3,360 492,360C494.7,360 497.3,358.8 500,358C502.7,357.2 505.3,355.5 508,355C510.7,354.5 513.5,354.5 516,355C518.5,355.5 521.3,356.5 523,358C524.7,359.5 525.8,361.7 526,364C526.2,366.3 525.3,370 524,372C522.7,374 520.3,374.7 518,376C515.7,377.3 512.3,378.7 510,380C507.7,381.3 505.7,382.7 504,384C502.3,385.3 501.3,386.3 500,388C498.7,389.7 496.8,391.7 496,394C495.2,396.3 494.7,399.7 495,402C495.3,404.3 496.2,406.5 498,408C499.8,409.5 503.3,410.3 506,411C508.7,411.7 511.7,410.8 514,412C516.3,413.2 518,416.7 520,418C522,419.3 525,419.3 526,420C527,420.7 524.3,422 526,422C527.7,422 533,420.3 536,420C539,419.7 541.7,419.3 544,420C546.3,420.7 547.3,422.7 550,424C552.7,425.3 556.7,426.8 560,428C563.3,429.2 566.7,430.2 570,431C573.3,431.8 576.7,432.8 580,433C583.3,433.2 587.3,433 590,432C592.7,431 593.7,428.5 596,427C598.3,425.5 601.3,423.7 604,423C606.7,422.3 609.8,421.8 612,423C614.2,424.2 616,427.2 617,430C618,432.8 618.5,437 618,440C617.5,443 616,446 614,448C612,450 607,450.3 606,452C605,453.7 608.2,456.3 608,458C607.8,459.7 606.2,460.3 605,462C603.8,463.7 601.3,465.7 601,468C600.7,470.3 602.5,473.5 603,476C603.5,478.5 604.8,481.3 604,483C603.2,484.7 600.7,485.7 598,486C595.3,486.3 591.3,485.3 588,485C584.7,484.7 581,484.3 578,484C575,483.7 572.3,483.7 570,483C567.7,482.3 566,480.8 564,480C562,479.2 560.3,478.7 558,478C555.7,477.3 552,475.7 550,476C548,476.3 546.8,478.3 546,480C545.2,481.7 546,484.7 545,486C544,487.3 543.2,487.5 540,488C536.8,488.5 530,489 526,489C522,489 518.7,489.2 516,488C513.3,486.8 512.3,483.3 510,482C507.7,480.7 504.7,480 502,480C499.3,480 496,481.5 494,482C492,482.5 492,481.8 490,483C488,484.2 484.7,486.8 482,489C479.3,491.2 476,493.8 474,496C472,498.2 471,499.7 470,502C469,504.3 469.3,507.7 468,510C466.7,512.3 464.7,514.5 462,516C459.3,517.5 455.7,518.3 452,519C448.3,519.7 443.7,519.7 440,520C436.3,520.3 433.3,520.3 430,521C426.7,521.7 422.5,522.7 420,524C417.5,525.3 418.3,527.7 415,529C411.7,530.3 405.8,531.5 400,532C394.2,532.5 396.7,512.3 380,532C363.3,551.7 365,630.3 300,650C235,669.7 41.7,760 -10,650C-61.7,540 -83,100 -10,-10Z" fill="#ffaa00"/>
<path d="M121,100C121.7,107.8 122.8,98.7 124,97C125.2,95.3 126.3,92.5 128,90C129.7,87.5 132,84.3 134,82C136,79.7 137.7,77.6 140,76C142.3,74.4 145,73.2 148,72.4C151,71.6 154.7,71 158,71C161.3,71 165.5,71.2 168,72.4C170.5,73.6 172.2,75.7 173,78C173.8,80.3 173.7,83.3 173,86C172.3,88.7 169.7,91.5 169,94C168.3,96.5 167.8,99.3 169,101C170.2,102.7 173.8,103 176,104C178.2,105 180,105.5 182,107C184,108.5 186,111.2 188,113C190,114.8 192,116.2 194,118C196,119.8 197.7,122.6 200,124C202.3,125.4 205.3,126.3 208,126.4C210.7,126.5 214,125.3 216,124.4C218,123.5 218.8,122.1 220,121C221.2,119.9 221.5,119.2 223,118C224.5,116.8 226.5,115.2 229,114C231.5,112.8 235.2,111.8 238,111C240.8,110.2 243.8,110.2 246,109C248.2,107.8 250,106.2 251,104C252,101.8 252.3,98.7 252,96C251.7,93.3 249.7,91 249,88C248.3,85 248.3,82 248,78C247.7,74 247.3,68.7 247,64C246.7,59.3 267.2,55.7 246,50C224.8,44.3 141,30 120,30C99,30 119.8,38.3 120,50C120.2,61.7 120.3,92.2 121,100Z" fill="#fcd37f"/>
<path d="M44,152C43,156 48,150.8 50,150C52,149.2 53.8,148 56,147C58.2,146 61,145.2 63,144C65,142.8 66,141 68,140C70,139 73,137.8 75,138C77,138.2 79.2,139.3 80,141C80.8,142.7 79.2,146.2 80,148C80.8,149.8 83.2,150.8 85,152C86.8,153.2 89,155.2 91,155C93,154.8 94.8,151.8 97,151C99.2,150.2 101.8,153.5 104,150C106.2,146.5 108,135.3 110,130C112,124.7 114.3,121.8 116,118C117.7,114.2 118.7,110.5 120,107C121.3,103.5 122,101.5 124,97C126,92.5 132.7,81.2 132,80C131.3,78.8 125.3,85.7 120,90C114.7,94.3 108.3,102.7 100,106C91.7,109.3 77.3,106.7 70,110C62.7,113.3 60.3,119 56,126C51.7,133 45,148 44,152Z" fill="#fcd37f"/>
<path d="M44,156C49.7,150.7 57.2,155.3 60,158C62.8,160.7 61.2,167.7 61,172C60.8,176.3 60,180.5 59,184C58,187.5 56.7,191 55,193C53.3,195 50,194.3 49,196C48,197.7 49.7,201.1 49,203C48.3,204.9 46.7,206.6 45,207.6C43.3,208.6 40.8,208.3 39,209C37.2,209.7 36.2,211 34,211.6C31.8,212.2 27.3,216 26,212.4C24.7,208.8 23,199.4 26,190C29,180.6 38.3,161.3 44,156Z" fill="#fcd37f"/>
<path d="M80,222C80.8,219.5 82,217 84,215C86,213 89.3,211.2 92,210C94.7,208.8 97.3,208.8 100,208C102.7,207.2 105.3,205.8 108,205C110.7,204.2 113.3,203.2 116,203C118.7,202.8 121.3,203.7 124,204C126.7,204.3 129.3,205.5 132,205C134.7,204.5 137.3,201.8 140,201C142.7,200.2 145.7,199.7 148,200C150.3,200.3 152,201.7 154,203C156,204.3 157.7,206.7 160,208C162.3,209.3 165.5,209.8 168,211C170.5,212.2 173.3,213.2 175,215C176.7,216.8 178,219.7 178,222C178,224.3 176.7,227 175,229C173.3,231 170.5,232.7 168,234C165.5,235.3 162.7,236.2 160,237C157.3,237.8 154.3,237.8 152,239C149.7,240.2 147.7,242 146,244C144.3,246 143.3,248.7 142,251C140.7,253.3 139.7,255.5 138,258C136.3,260.5 133.7,263.5 132,266C130.3,268.5 130,271 128,273C126,275 122.7,277.2 120,278C117.3,278.8 114.3,278.7 112,278C109.7,277.3 108,275.2 106,274C104,272.8 102,271.5 100,271C98,270.5 95.5,271.8 94,271C92.5,270.2 91.3,268.2 91,266C90.7,263.8 92,260.7 92,258C92,255.3 92,252.3 91,250C90,247.7 87.5,246.2 86,244C84.5,241.8 83.2,239.3 82,237C80.8,234.7 79.3,232.5 79,230C78.7,227.5 79.2,224.5 80,222Z" fill="#fcd37f"/>
<path d="M163,182C163.3,179.3 164.8,176.3 166,174C167.2,171.7 168,169.3 170,168C172,166.7 176,165.3 178,166C180,166.7 180.7,169.8 182,172C183.3,174.2 184.3,177.5 186,179C187.7,180.5 190,181.2 192,181C194,180.8 196.2,180.2 198,178C199.8,175.8 201.7,170.7 203,168C204.3,165.3 204.8,163.8 206,162C207.2,160.2 208,157.7 210,157C212,156.3 215.3,157 218,158C220.7,159 223.7,161.3 226,163C228.3,164.7 229.7,167.5 232,168C234.3,168.5 237.3,166 240,166C242.7,166 244.7,168.3 248,168C251.3,167.7 256.8,164.3 260,164C263.2,163.7 265.8,164.7 267,166C268.2,167.3 267.5,169 267,172C266.5,175 264.8,180 264,184C263.2,188 262.5,192 262,196C261.5,200 262,204 261,208C260,212 258.2,218.3 256,220C253.8,221.7 250.7,219.2 248,218C245.3,216.8 242.7,213.7 240,213C237.3,212.3 234.7,214.7 232,214C229.3,213.3 227,210.2 224,209C221,207.8 217.3,207.5 214,207C210.7,206.5 207.7,206.3 204,206C200.3,205.7 195,205.2 192,205C189,204.8 188.7,205.3 186,205C183.3,204.7 179,204.2 176,203C173,201.8 170,200.2 168,198C166,195.8 164.8,192.7 164,190C163.2,187.3 162.7,184.7 163,182Z" fill="#fcd37f"/>
<path d="M269,249C268.9,247.8 270,246.3 271,245.6C272,244.9 273.9,244.6 275,245C276.1,245.4 277.4,246.8 277.6,248C277.8,249.2 277,251.2 276,252C275,252.8 272.8,253.5 271.6,253C270.4,252.5 269.1,250.2 269,249Z" fill="#fcd37f"/>
<path d="M46,313C45.7,309 54.7,315 58,316C61.3,317 63.8,317.3 66,319C68.2,320.7 69.8,323.5 71,326C72.2,328.5 72,331.2 73,334C74,336.8 75.5,340 77,343C78.5,346 80,349.3 82,352C84,354.7 86.5,357.2 89,359C91.5,360.8 94.5,362.8 97,363C99.5,363.2 101.8,361.5 104,360C106.2,358.5 108.2,356.2 110,354C111.8,351.8 113.2,349 115,347C116.8,345 118.8,343 121,342C123.2,341 125.8,340.7 128,341C130.2,341.3 132.5,342.2 134,344C135.5,345.8 136.2,349 137,352C137.8,355 138.5,359 139,362C139.5,365 140.3,367.3 140,370C139.7,372.7 137.2,375.3 137,378C136.8,380.7 137.8,383.7 139,386C140.2,388.3 142.2,390.2 144,392C145.8,393.8 147.7,395.8 150,397C152.3,398.2 155.8,399.2 158,399C160.2,398.8 160.7,396.2 163,396C165.3,395.8 169.2,398.3 172,398C174.8,397.7 177.7,395.7 180,394C182.3,392.3 184.5,390.3 186,388C187.5,385.7 188.7,383 189,380C189.3,377 188.5,373.3 188,370C187.5,366.7 186.2,363.3 186,360C185.8,356.7 186.7,352.7 187,350C187.3,347.3 188.5,346 188,344C187.5,342 184.5,340.3 184,338C183.5,335.7 184.3,332.7 185,330C185.7,327.3 186.8,324.7 188,322C189.2,319.3 190.8,316.2 192,314C193.2,311.8 195.5,309 195,309C194.5,309 188.8,313.3 189,314C189.2,314.7 193.2,312.3 196,313C198.8,313.7 202.7,316.8 206,318C209.3,319.2 213.2,318.5 216,320C218.8,321.5 222.2,324.8 223,327C223.8,329.2 222.5,331.7 221,333C219.5,334.3 216.2,334.3 214,335C211.8,335.7 209.2,335.8 208,337C206.8,338.2 206,340.5 207,342C208,343.5 211.5,344.7 214,346C216.5,347.3 219.7,348.3 222,350C224.3,351.7 226.2,353.8 228,356C229.8,358.2 231.7,360.7 233,363C234.3,365.3 234.8,367.5 236,370C237.2,372.5 238.3,375.5 240,378C241.7,380.5 244,384 246,385C248,386 249.7,384.5 252,384C254.3,383.5 257.7,381.7 260,382C262.3,382.3 264.7,384 266,386C267.3,388 267.8,391.3 268,394C268.2,396.7 267.3,399.3 267,402C266.7,404.7 266.3,407 266,410C265.7,413 265.5,416.1 265,420C264.5,423.9 262.7,436.5 263,433.2C263.3,429.9 266.8,402.2 267,400C267.2,397.8 264.8,414.3 264,420C263.2,425.7 263.3,429.7 262,434C260.7,438.3 257,442 256,446C255,450 256.5,455 256,458C255.5,461 253.7,461 253,464C252.3,467 264.2,476.7 252,476C239.8,475.3 202,466 180,460C158,454 140,446.7 120,440C100,433.3 70,436.7 60,420C50,403.3 62.3,357.8 60,340C57.7,322.2 46.3,317 46,313Z" fill="#fcd37f"/>
<path d="M186,312C187,310 189.7,309.7 192,310C194.3,310.3 197,312.8 200,314C203,315.2 206.7,316.3 210,317C213.3,317.7 218.3,315.8 220,318C221.7,320.2 221.3,328.2 220,330C218.7,331.8 215.3,329.5 212,329C208.7,328.5 203.7,327.2 200,327C196.3,326.8 192.3,328.8 190,328C187.7,327.2 186.7,324.7 186,322C185.3,319.3 185,314 186,312Z" fill="#fcd37f"/>
<path d="M279,390C280,388 281.8,385.3 284,384C286.2,382.7 289.3,382.5 292,382C294.7,381.5 298.1,380.3 300,381C301.9,381.7 303.3,383.8 303.6,386C303.9,388.2 302.9,391.7 302,394C301.1,396.3 299.7,398.3 298,400C296.3,401.7 294.3,403 292,404C289.7,405 286.1,406.3 284,406C281.9,405.7 280.6,403.7 279.6,402C278.6,400.3 278.1,398 278,396C277.9,394 278,392 279,390Z" fill="#fcd37f"/>
<path d="M269,360C269.3,358.9 270.9,357.6 272,357.6C273.1,357.6 274.9,358.9 275.6,360C276.3,361.1 276.7,362.9 276.4,364C276.1,365.1 274.7,366.3 273.6,366.4C272.5,366.5 270.8,365.5 270,364.4C269.2,363.3 268.7,361.1 269,360Z" fill="#fcd37f"/>
<path d="M281,288C289.2,286.3 320,284.3 328,288C336,291.7 330.3,306.2 329,310C327.7,313.8 323.2,310.3 320,311C316.8,311.7 312,312.8 310,314C308,315.2 308,316.3 308,318C308,319.7 309,321.8 310,324C311,326.2 312.2,329 314,331C315.8,333 319.3,334.3 321,336C322.7,337.7 323.7,339 324.4,341C325.1,343 325.5,345.7 325.4,348C325.3,350.3 324.7,353.3 324,355C323.3,356.7 321.9,358.1 321,358C320.1,357.9 318.6,355.9 318.4,354.4C318.2,352.9 319.7,350.8 319.6,349C319.5,347.2 319.6,344.9 318,343.6C316.4,342.3 313,341.3 310,341C307,340.7 303.2,341.8 300,341.6C296.8,341.4 293.7,340.9 291,340C288.3,339.1 285.6,338.4 284,336.4C282.4,334.4 282.3,331.1 281.6,328C280.9,324.9 280.6,321.3 280,318C279.4,314.7 278.2,311.3 278,308C277.8,304.7 278.5,301.3 279,298C279.5,294.7 272.8,289.7 281,288Z" fill="#fcd37f"/>
<path d="M273,464C273.3,463 274.2,461.3 276,460C277.8,458.7 281.3,457.2 284,456C286.7,454.8 289.3,454.3 292,453C294.7,451.7 297.3,449.7 300,448C302.7,446.3 305.7,443.8 308,443C310.3,442.2 312.3,442.2 314,443C315.7,443.8 316.3,446.5 318,448C319.7,449.5 321.7,451.2 324,452C326.3,452.8 329.3,453.3 332,453C334.7,452.7 337.7,450.3 340,450C342.3,449.7 343.7,450.3 346,451C348.3,451.7 351.7,453.7 354,454C356.3,454.3 358,454 360,453C362,452 365.2,450.2 366,448C366.8,445.8 365,442.7 365,440C365,437.3 365.2,434.3 366,432C366.8,429.7 367.7,427.7 370,426C372.3,424.3 377.3,421.7 380,422C382.7,422.3 383,427.7 386,428C389,428.3 395.3,423.7 398,424C400.7,424.3 401.7,427.7 402,430C402.3,432.3 402,435.7 400,438C398,440.3 393.3,442.3 390,444C386.7,445.7 383.3,446 380,448C376.7,450 373.3,454 370,456C366.7,458 365,458.7 360,460C355,461.3 338,462.2 340,464C342,465.8 368.3,469.5 372,471C375.7,472.5 365.3,472.5 362,473C358.7,473.5 355,473.5 352,474C349,474.5 346.7,475.2 344,476C341.3,476.8 338.3,477.7 336,479C333.7,480.3 331.5,482.5 330,484C328.5,485.5 328.7,488 327,488C325.3,488 323.2,487.7 320,484C316.8,480.3 315.7,469 308,466C300.3,463 279.8,466.3 274,466C268.2,465.7 272.7,465 273,464Z" fill="#fcd37f"/>
<path d="M406,488C406.3,486.5 408.2,484.5 410,484C411.8,483.5 415,484.2 417,485C419,485.8 420.2,488.8 422,489C423.8,489.2 425.7,486.8 428,486C430.3,485.2 433.3,484.2 436,484C438.7,483.8 442.2,484.2 444,485C445.8,485.8 447.7,488 447,489C446.3,490 442.2,490.3 440,491C437.8,491.7 436,492 434,493C432,494 430,495.5 428,497C426,498.5 424.2,501 422,502C419.8,503 417,503.5 415,503C413,502.5 411.2,500.7 410,499C408.8,497.3 408.7,494.8 408,493C407.3,491.2 405.7,489.5 406,488Z" fill="#fcd37f"/>
<path d="M442,503C442.4,502.1 444.3,500.7 446,500.4C447.7,500.1 450.7,500.4 452,501C453.3,501.6 454.1,503.1 453.6,504C453.1,504.9 450.7,506.1 449,506.4C447.3,506.7 444.8,506.6 443.6,506C442.4,505.4 441.6,503.9 442,503Z" fill="#fcd37f"/>
<path d="M345,493C345.3,491.8 348.3,490.6 350,490.4C351.7,490.2 354.3,491.1 355,492C355.7,492.9 355.2,495.1 354,496C352.8,496.9 349.5,498.1 348,497.6C346.5,497.1 344.7,494.2 345,493Z" fill="#fcd37f"/>
<path d="M345,494C345.2,492.9 347.3,491.3 349,491C350.7,490.7 354.2,491.2 355,492C355.8,492.8 355.2,495.1 354,496C352.8,496.9 349.5,497.9 348,497.6C346.5,497.3 344.8,495.1 345,494Z" fill="#fcd37f"/>
<path d="M352,526C352,524.7 357.2,524.3 360,525C362.8,525.7 367.8,528.2 369,530C370.2,531.8 368.5,535.5 367,536C365.5,536.5 362.5,534.7 360,533C357.5,531.3 352,527.3 352,526Z" fill="#fcd37f"/>
<path d="M385,191C382.7,192 381.5,192.8 379,194C376.5,195.2 373.2,196.8 370,198C366.8,199.2 362.3,200.2 360,201C357.7,201.8 357.3,201.8 356,203C354.7,204.2 354,207 352,208C350,209 347.3,208.7 344,209C340.7,209.3 336,209.5 332,210C328,210.5 323.7,211.2 320,212C316.3,212.8 313,214.3 310,215C307,215.7 304.3,216.3 302,216C299.7,215.7 297.7,214.8 296,213C294.3,211.2 293.2,207.5 292,205C290.8,202.5 290.2,199.5 289,198C287.8,196.5 286.2,195.8 285,196C283.8,196.2 281.8,197.2 282,199C282.2,200.8 284.3,203.8 286,207C287.7,210.2 290.5,215.5 292,218C293.5,220.5 295,220.2 295,222C295,223.8 293.2,226.7 292,229C290.8,231.3 288.8,233.5 288,236C287.2,238.5 286.8,241.8 287,244C287.2,246.2 287.5,247.8 289,249C290.5,250.2 293.5,250.3 296,251C298.5,251.7 301.5,252.2 304,253C306.5,253.8 309.8,254.5 311,256C312.2,257.5 312.2,259.8 311,262C309.8,264.2 306.5,266.7 304,269C301.5,271.3 298.5,273.8 296,276C293.5,278.2 291,279.7 289,282C287,284.3 285.3,286.5 284,290C282.7,293.5 281,297.4 281,303.2C281,309 280.8,321.5 284,325C287.2,328.5 296.3,324.7 300,324C303.7,323.3 304.3,322.7 306,321C307.7,319.3 307.2,315.2 310,314C312.8,312.8 318.8,313.8 322.5,314C326.2,314.2 328.8,315 332.5,315C336.2,315 341.4,314.6 345,314C348.6,313.4 352.3,311.5 354,311.5C355.7,311.5 355.1,314.1 355.2,313.9C355.3,313.7 355.1,311.8 354.4,310.4C353.7,309 352.8,306.7 351.2,305.6C349.6,304.5 346.5,305.1 344.8,304C343.1,302.9 341.6,301.3 340.8,299.2C340,297.1 339.9,293.9 340,291.2C340.1,288.5 340.9,285.9 341.6,283.2C342.3,280.5 343.1,277.9 344,275.2C344.9,272.5 346.3,269.9 347.2,267.2C348.1,264.5 349.1,261.9 349.6,259.2C350.1,256.5 350.3,254.1 350.4,251.2C350.5,248.3 350.5,244.5 350.4,241.6C350.3,238.7 349.6,236.1 349.6,233.6C349.6,231.1 349.7,228.1 350.4,226.4C351.1,224.8 351.9,224.1 353.6,223.7C355.3,223.3 358.3,223.8 360.8,224C363.3,224.2 366.5,224.5 368.8,224.8C371.1,225.1 373.1,225.1 374.4,225.6C375.7,226.1 375.6,227.7 376.8,228C378,228.3 380,227.9 381.6,227.2C383.2,226.5 385.5,225.1 386.4,224C387.3,222.9 386.3,221.5 387.2,220.8C388.1,220.1 390.8,220.8 392,220C393.2,219.2 394.3,218.3 394.4,216C394.5,213.7 393,211.1 392.8,206.4C392.6,201.7 394.3,190.6 393,188C391.7,185.4 387.3,190 385,191Z" fill="#fcd37f"/>
<path d="M377.6,224C378.9,222.3 383.7,221.7 385.6,222.4C387.5,223.1 388.4,226.3 388.8,228C389.2,229.7 388.9,231.8 388,232.8C387.1,233.8 384.9,233.9 383.2,233.9C381.5,233.9 378.5,234.5 377.6,232.8C376.7,231.2 376.3,225.7 377.6,224Z" fill="#fcd37f"/>
<path d="M573,159C573.4,157.3 574.5,155.2 576,154C577.5,152.8 580,151.8 582,152C584,152.2 586.8,153.3 588,155C589.2,156.7 589.5,160.1 589,162C588.5,163.9 586.8,165.6 585,166.4C583.2,167.2 579.9,167.4 578,167C576.1,166.6 574.4,165.3 573.6,164C572.8,162.7 572.6,160.7 573,159Z" fill="#ffff00"/>
<path d="M148,38C150.5,36.3 154.3,41.8 155,44C155.7,46.2 153.3,48.3 152,51C150.7,53.7 148.8,57 147,60C145.2,63 143,66 141,69C139,72 137,75 135,78C133,81 130.8,84.3 129,87C127.2,89.7 125.2,91.8 124,94C122.8,96.2 122.7,98.2 122,100C121.3,101.8 121.3,103.3 120,105C118.7,106.7 116,108.2 114,110C112,111.8 110,114.2 108,116C106,117.8 103.8,119.7 102,121C100.2,122.3 99,124 97,124C95,124 92.2,122.2 90,121C87.8,119.8 86,117.8 84,117C82,116.2 79.7,115.5 78,116C76.3,116.5 74.8,118 74,120C73.2,122 74,125.8 73,128C72,130.2 70.2,131.8 68,133C65.8,134.2 63,134.8 60,135C57,135.2 50,137.2 50,134C50,130.8 55,120.7 60,116C65,111.3 72,107.7 80,106C88,104.3 100.7,110 108,106C115.3,102 118.7,90.7 124,82C129.3,73.3 136,61.3 140,54C144,46.7 145.5,39.7 148,38Z" fill="#ffff00"/>
<path d="M42,158C43.3,157.7 44.7,158.3 46,158C47.3,157.7 48.8,155.3 50,156C51.2,156.7 52.7,159.7 53,162C53.3,164.3 52.5,167.3 52,170C51.5,172.7 49.8,178.3 50,178C50.2,177.7 52.7,168 53,168C53.3,168 52.5,174.7 52,178C51.5,181.3 51.2,185.5 50,188C48.8,190.5 46.7,192.7 45,193C43.3,193.3 41.2,195.5 40,190C38.8,184.5 37.7,165.3 38,160C38.3,154.7 40.7,158.3 42,158Z" fill="#ffff00"/>
<path d="M196,50C187.5,50.7 195.5,60 195,64C194.5,68 193.8,70.7 193,74C192.2,77.3 190.6,80.7 190,84C189.4,87.3 189.3,91.2 189.6,94C189.9,96.8 190.8,99 192,101C193.2,103 195.7,103.8 197,106C198.3,108.2 198.8,111.5 200,114C201.2,116.5 202.3,119.3 204,121C205.7,122.7 208,124 210,124C212,124 214.3,122.7 216,121C217.7,119.3 218.8,115.8 220,114C221.2,112.2 221.3,111.3 223,110C224.7,108.7 227.8,107.7 230,106C232.2,104.3 234.3,102.3 236,100C237.7,97.7 238.8,95 240,92C241.2,89 242.2,85.2 243,82C243.8,78.8 244.5,76.7 245,73C245.5,69.3 254.2,63.8 246,60C237.8,56.2 204.5,49.3 196,50Z" fill="#ffff00"/>
<path d="M207,165C207.8,163.5 209.8,163 212,163C214.2,163 217.3,163.8 220,165C222.7,166.2 226,168.2 228,170C230,171.8 231.5,174.2 232,176C232.5,177.8 232.2,180.2 231,181C229.8,181.8 227,181.7 225,181C223,180.3 221.2,177.8 219,177C216.8,176.2 214,176.8 212,176C210,175.2 207.8,173.8 207,172C206.2,170.2 206.2,166.5 207,165Z" fill="#ffff00"/>
<path d="M193,376C194.5,373.7 197.2,373 200,372C202.8,371 207.2,370.8 210,370C212.8,369.2 214.8,367 217,367C219.2,367 221.3,368.2 223,370C224.7,371.8 225.5,375.7 227,378C228.5,380.3 230.2,382 232,384C233.8,386 236.8,387.8 238,390C239.2,392.2 237.3,395.2 239,397C240.7,398.8 245.2,399.5 248,401C250.8,402.5 254,403.8 256,406C258,408.2 259.3,411 260,414C260.7,417 260.3,420.8 260,424C259.7,427.2 258,435.5 258,433.2C258,430.9 260.2,412.5 260,410C259.8,407.5 259,416 257,418C255,420 250.5,420.3 248,422C245.5,423.7 243.3,425.7 242,428C240.7,430.3 240.5,433 240,436C239.5,439 238.7,443.3 239,446C239.3,448.7 240.7,450 242,452C243.3,454 246.1,454 247,458C247.9,462 258.8,475.7 247.6,476C236.4,476.3 197.9,467.7 180,460C162.1,452.3 140,435 140,430C140,425 172.3,430.7 180,430C187.7,429.3 184,427.3 186,426C188,424.7 190.2,423.3 192,422C193.8,420.7 195.8,420 197,418C198.2,416 198.7,413 199,410C199.3,407 199.8,402.7 199,400C198.2,397.3 195.3,396.3 194,394C192.7,391.7 191.2,389 191,386C190.8,383 191.5,378.3 193,376Z" fill="#ffff00"/>
<path d="M294,464C292.8,463.4 298,460.7 300,459C302,457.3 304.5,456.2 306,454C307.5,451.8 307.8,447.8 309,446C310.2,444.2 311.8,442.8 313,443C314.2,443.2 315,445.5 316,447C317,448.5 317.3,450.3 319,452C320.7,453.7 324.2,455.3 326,457C327.8,458.7 329.5,460 330,462C330.5,464 329.7,466.8 329,469C328.3,471.2 327.3,473.5 326,475C324.7,476.5 322.3,477.8 321,478C319.7,478.2 319.5,477.3 318,476C316.5,474.7 313.8,472.3 312,470C310.2,467.7 310,463.4 307,462.4C304,461.4 295.2,464.6 294,464Z" fill="#ffff00"/>
<path d="M282,301C282.8,299.5 285.8,298.7 288,298C290.2,297.3 292.3,297.3 295,297C297.7,296.7 301.3,297.2 304,296C306.7,294.8 307.7,291 311,290C314.3,289 321.5,289 324,290C326.5,291 326.7,294.3 326,296C325.3,297.7 321.3,298.2 320,300C318.7,301.8 319.7,305.5 318,307C316.3,308.5 312.3,309.3 310,309C307.7,308.7 305.7,306.2 304,305C302.3,303.8 301.8,302.3 300,302C298.2,301.7 294.3,301.8 293,303C291.7,304.2 292,307 292,309C292,311 293.5,313.7 293,315C292.5,316.3 290,317.8 289,317C288,316.2 288,311.7 287,310C286,308.3 283.8,308.5 283,307C282.2,305.5 281.2,302.5 282,301Z" fill="#ffff00"/>
<path d="M320.8,260C321.5,258.5 323.7,259.1 325.6,258.4C327.5,257.7 330.5,257.2 332,256C333.5,254.8 333.5,251.7 334.4,251.2C335.3,250.7 336.8,251.5 337.6,252.8C338.4,254.1 338.3,257.3 339.2,259.2C340.1,261.1 342.4,262.1 343.2,264C344,265.9 344.4,268.3 344,270.4C343.6,272.5 341.5,274.7 340.8,276.8C340.1,278.9 340.7,281.5 340,283.2C339.3,284.9 338.4,286.4 336.8,287.2C335.2,288 332.5,288 330.4,288C328.3,288 325.7,286.7 324,287.2C322.3,287.7 320.8,289.5 320,291.2C319.2,292.9 319.1,295.5 319.2,297.6C319.3,299.7 321.1,302.4 320.8,304C320.5,305.6 318.9,306.9 317.6,307.2C316.3,307.5 314.4,306.4 312.8,305.6C311.2,304.8 309.6,303.5 308,302.4C306.4,301.3 304.5,300.3 303.2,299.2C301.9,298.1 301.3,297.6 300,296C298.7,294.4 294.9,291.2 295.2,289.6C295.5,288 299.2,288 301.6,286.4C304,284.8 307.7,281.9 309.6,280C311.5,278.1 311.2,276.3 312.8,275.2C314.4,274.1 317.7,274.9 319.2,273.6C320.7,272.3 321.3,269.5 321.6,267.2C321.9,264.9 320.1,261.5 320.8,260Z" fill="#ffff00"/>
<path d="M363.2,208C363.7,206.8 365.2,205.5 367.2,204.8C369.2,204.1 372.5,204 375.2,204C377.9,204 380.5,204.4 383.2,204.8C385.9,205.2 389.7,205.3 391.2,206.4C392.7,207.5 392.3,209.6 392,211.2C391.7,212.8 391.1,214.9 389.6,216C388.1,217.1 385.6,217.5 383.2,217.6C380.8,217.7 377.6,217.2 375.2,216.8C372.8,216.4 370.7,216 368.8,215.2C366.9,214.4 364.9,213.2 364,212C363.1,210.8 362.7,209.2 363.2,208Z" fill="#ffff00"/>
<path d="M342.4,216.8C342.7,216 344,215.2 344.8,215.2C345.6,215.2 346.9,216 347.2,216.8C347.5,217.6 347.1,219.5 346.4,220C345.7,220.5 343.9,220.5 343.2,220C342.5,219.5 342.1,217.6 342.4,216.8Z" fill="#ffff00"/>
<path d="M391.6,195C392.2,194.1 393.9,192.6 396,192.4C398.1,192.2 401.8,193 404,193.6C406.2,194.2 408.5,195.2 409,196C409.5,196.8 408.8,198.1 407,198.4C405.2,198.7 400.4,198.1 398,198C395.6,197.9 393.5,198.1 392.4,197.6C391.3,197.1 391,195.9 391.6,195Z" fill="#ffff00"/>
<path d="M445,569.5C446.9,568.2 451.9,567.6 455,567C458.1,566.4 461.5,566.8 463.8,565.8C466.1,564.8 467.4,562.7 468.8,560.8C470.2,558.9 470.6,556 472.5,554.5C474.4,553 477.5,553.2 480,552C482.5,550.8 485.4,549.1 487.5,547C489.6,544.9 491.2,541.6 492.5,539.5C493.8,537.4 492.5,535.3 495,534.5C497.5,533.7 505.6,532.6 507.5,534.5C509.4,536.4 507.4,542.9 506.2,545.8C504.9,548.7 502.3,549.7 500,552C497.7,554.3 495,557 492.5,559.5C490,562 487.1,564.5 485,567C482.9,569.5 480,571.2 480,574.5C480,577.8 483.8,580.8 485,587C486.2,593.2 493.3,609.5 487.5,612C481.7,614.5 457.1,604.8 450,602C442.9,599.2 445.4,597.3 445,595C444.6,592.7 447.3,590.8 447.5,588.2C447.7,585.6 446.8,581.8 446.2,579.5C445.6,577.2 444,576.2 443.8,574.5C443.6,572.8 443.1,570.8 445,569.5Z" fill="#ffff00"/>
<path d="M473,506C472.7,503.3 474.2,500.3 476,498C477.8,495.7 481.3,493.3 484,492C486.7,490.7 489.5,489.8 492,490C494.5,490.2 497.4,491.3 499,493C500.6,494.7 501.4,497.5 501.6,500C501.8,502.5 501.3,505.8 500,508C498.7,510.2 496.3,511.7 494,513C491.7,514.3 488.7,515.4 486,515.6C483.3,515.8 480.2,515.6 478,514C475.8,512.4 473.3,508.7 473,506Z" fill="#ffff00"/>
<path d="M507,518C507,515.3 508.5,512.3 510,510C511.5,507.7 513,505.7 516,504C519,502.3 524,500.8 528,500C532,499.2 537.3,500.7 540,499C542.7,497.3 542.3,491.2 544,490C545.7,488.8 548.7,490.7 550,492C551.3,493.3 551,496.3 552,498C553,499.7 553.7,501.3 556,502C558.3,502.7 563,501.5 566,502C569,502.5 573.3,503.7 574,505C574.7,506.3 572.3,508.8 570,510C567.7,511.2 563,511 560,512C557,513 554,514.3 552,516C550,517.7 550,520.3 548,522C546,523.7 543,524.7 540,526C537,527.3 533.3,528.7 530,530C526.7,531.3 519.7,533.7 520,534C520.3,534.3 531,531.7 532,532C533,532.3 528.7,534.3 526,536C523.3,537.7 518.7,540 516,542C513.3,544 511.7,548.3 510,548C508.3,547.7 507.3,541.8 506,540C504.7,538.2 504,537.5 502,537C500,536.5 495.8,536.2 494,537C492.2,537.8 491.3,539.8 491,542C490.7,544.2 492.5,547.7 492,550C491.5,552.3 490,554.3 488,556C486,557.7 482,558 480,560C478,562 469.3,566.7 476,568C482.7,569.3 509.3,572.7 520,568C530.7,563.3 540,546.7 540,540C540,533.3 525,530.3 520,528C515,525.7 512.2,527.7 510,526C507.8,524.3 507,520.7 507,518Z" fill="#ffff00"/>
<path d="M488,489C489.7,485.5 495.8,491.8 498,494C500.2,496.2 501,499.3 501,502C501,504.7 500.2,507.8 498,510C495.8,512.2 489.7,518.5 488,515C486.3,511.5 486.3,492.5 488,489Z" fill="#ffff00"/>
<path d="M615,502C614.3,499.8 614.8,496 616,494C617.2,492 619.7,490.5 622,490C624.3,489.5 628.5,489.7 630,491C631.5,492.3 631.3,495.7 631,498C630.7,500.3 629.8,503.5 628,505C626.2,506.5 622.2,507.5 620,507C617.8,506.5 615.7,504.2 615,502Z" fill="#ffff00"/>
<path d="M605,528C605.5,526.7 607.7,525.8 609,526C610.3,526.2 612.5,527.7 613,529C613.5,530.3 613.2,533.2 612,534C610.8,534.8 607.2,535 606,534C604.8,533 604.5,529.3 605,528Z" fill="#ffff00"/>
<path d="M484,110C485.5,110.2 487.5,112.3 488,114C488.5,115.7 487.7,118.5 487,120C486.3,121.5 483.5,122.5 484,123C484.5,123.5 488.3,122.2 490,123C491.7,123.8 493,125.5 494,128C495,130.5 495,134.7 496,138C497,141.3 499,144.8 500,148C501,151.2 498,155.5 502,157C506,158.5 519.3,158.3 524,157C528.7,155.7 528,151.2 530,149C532,146.8 534,144.7 536,144C538,143.3 541.7,143.7 542,145C542.3,146.3 539,149.5 538,152C537,154.5 536.2,157 536,160C535.8,163 536.2,166.3 537,170C537.8,173.7 540.5,178.3 541,182C541.5,185.7 541,189 540,192C539,195 536,196.7 535,200C534,203.3 534.7,209.7 534,212C533.3,214.3 531.7,212.7 531,214C530.3,215.3 531.2,218.5 530,220C528.8,221.5 526.3,222.7 524,223C521.7,223.3 518.3,221.8 516,222C513.7,222.2 511.7,222.8 510,224C508.3,225.2 507.7,228.3 506,229C504.3,229.7 501.8,228 500,228C498.2,228 496.9,229.5 495,229C493.1,228.5 489.4,226.8 488.4,225C487.4,223.2 488.3,220.2 489,218C489.7,215.8 491.7,214.3 492.4,212C493.1,209.7 493.7,206.7 493,204C492.3,201.3 490.2,198 488,196C485.8,194 483,193.3 480,192C477,190.7 473.7,190.7 470,188C466.3,185.3 460.3,180 458,176C455.7,172 457,166.7 456,164C455,161.3 453.7,161.3 452,160C450.3,158.7 446.7,158 446,156C445.3,154 446.3,150.3 448,148C449.7,145.7 453.5,144 456,142C458.5,140 461.3,138.3 463,136C464.7,133.7 464.5,129.5 466,128C467.5,126.5 470,127.7 472,127C474,126.3 477.2,125.3 478,124C478.8,122.7 476.8,120.8 477,119C477.2,117.2 477.8,114.5 479,113C480.2,111.5 482.5,109.8 484,110Z" fill="#b0b0b0"/>
<path d="M506,241C508.7,238.8 512.7,239.5 516,239C519.3,238.5 522.7,238.7 526,238C529.3,237.3 533.5,235 536,235C538.5,235 540,236.5 541,238C542,239.5 541.2,242.3 542,244C542.8,245.7 544,246.7 546,248C548,249.3 551.7,250.3 554,252C556.3,253.7 558.2,256 560,258C561.8,260 564,262 565,264C566,266 566.8,267.7 566,270C565.2,272.3 561.7,275.3 560,278C558.3,280.7 557.7,283.3 556,286C554.3,288.7 552,291.3 550,294C548,296.7 546,299.8 544,302C542,304.2 540,305.8 538,307C536,308.2 533.5,308 532,309C530.5,310 529.7,310.8 529,313C528.3,315.2 528.2,318.5 528,322C527.8,325.5 528.7,330.7 528,334C527.3,337.3 525.7,340 524,342C522.3,344 520,345.5 518,346C516,346.5 513.3,346.7 512,345C510.7,343.3 510.7,338.8 510,336C509.3,333.2 509.3,330.2 508,328C506.7,325.8 504,324.3 502,323C500,321.7 497.2,321.8 496,320C494.8,318.2 494.7,314.3 495,312C495.3,309.7 496.5,308 498,306C499.5,304 502,302 504,300C506,298 509.7,295.5 510,294C510.3,292.5 507.7,292 506,291C504.3,290 501.8,289.8 500,288C498.2,286.2 496.2,283 495,280C493.8,277 493,273.3 493,270C493,266.7 493.8,263 495,260C496.2,257 498.2,255.2 500,252C501.8,248.8 503.3,243.2 506,241Z" fill="#b0b0b0"/>
<path d="M573,183C573.8,181.3 574.8,179.3 577,178C579.2,176.7 582.8,175.5 586,175C589.2,174.5 593.3,174.5 596,175C598.7,175.5 601.3,176.3 602,178C602.7,179.7 601,183 600,185C599,187 597.7,188.7 596,190C594.3,191.3 591.3,191.5 590,193C588.7,194.5 587.8,197 588,199C588.2,201 589.7,203.5 591,205C592.3,206.5 594.7,206.7 596,208C597.3,209.3 599.3,211.3 599,213C598.7,214.7 595.8,216.8 594,218C592.2,219.2 589.3,220.2 588,220C586.7,219.8 587.3,217.2 586,217C584.7,216.8 582.7,218 580,219C577.3,220 572.7,223 570,223C567.3,223 565.3,220.8 564,219C562.7,217.2 562.3,214.5 562,212C561.7,209.5 561.7,206.3 562,204C562.3,201.7 562.8,199.8 564,198C565.2,196.2 567.7,194.7 569,193C570.3,191.3 571.3,189.7 572,188C572.7,186.3 572.2,184.7 573,183Z" fill="#b0b0b0"/>
<path d="M589,244C589.9,243.2 593.2,241.8 595,241C596.8,240.2 599.3,238.8 600,239C600.7,239.2 600,241 599,242C598,243 595.6,244.3 594,245C592.4,245.7 590.4,246.2 589.6,246C588.8,245.8 588.1,244.8 589,244Z" fill="#b0b0b0"/>
<path d="M592,255C593.3,253.7 597.5,251.2 600,250C602.5,248.8 605.4,247.8 607,248C608.6,248.2 609.8,249.8 609.6,251C609.4,252.2 607.9,254 606,255C604.1,256 600.3,256.5 598,257C595.7,257.5 593.4,258.3 592.4,258C591.4,257.7 590.7,256.3 592,255Z" fill="#b0b0b0"/>
<path d="M634,192C634.5,190.5 636.3,189 638,188C639.7,187 642.9,184.7 644,186C645.1,187.3 645.1,194 644.4,196C643.7,198 641.6,197.8 640,198C638.4,198.2 636,198 635,197C634,196 633.5,193.5 634,192Z" fill="#b0b0b0"/>
<path d="M578,176C581,174.8 586.7,174.7 590,175C593.3,175.3 596.3,176.5 598,178C599.7,179.5 600.7,182 600,184C599.3,186 595.7,188 594,190C592.3,192 590.3,193.7 590,196C589.7,198.3 590.7,201.3 592,204C593.3,206.7 597.3,209.7 598,212C598.7,214.3 597.3,216.7 596,218C594.7,219.3 592.7,220 590,220C587.3,220 583.7,218 580,218C576.3,218 570.8,220 568,220C565.2,220 564.2,219.3 563,218C561.8,216.7 561,214.7 561,212C561,209.3 561.8,204.7 563,202C564.2,199.3 566.5,198 568,196C569.5,194 571.3,192.3 572,190C572.7,187.7 571,184.3 572,182C573,179.7 575,177.2 578,176Z" fill="#b0b0b0"/>
<path d="M440,226C440.2,224 441.8,222.5 443,222C444.2,221.5 445.8,222 447,223C448.2,224 449.8,226.3 450,228C450.2,229.7 449.3,232 448,233C446.7,234 443.3,235.2 442,234C440.7,232.8 439.8,228 440,226Z" fill="#b0b0b0"/>
<path d="M60,20C77,3.3 137,16.2 152,20C167,23.8 151,38 150,43C149,48 147.5,47.5 146,50C144.5,52.5 142.7,55 141,58C139.3,61 137.8,64.8 136,68C134.2,71.2 132,74 130,77C128,80 126,83.2 124,86C122,88.8 119.7,91.3 118,94C116.3,96.7 115.2,99.7 114,102C112.8,104.3 112.3,106.3 111,108C109.7,109.7 107.8,111.2 106,112C104.2,112.8 101.5,113.5 100,113C98.5,112.5 98.3,110 97,109C95.7,108 93.8,107.2 92,107C90.2,106.8 88,107.2 86,108C84,108.8 82.2,110.8 80,112C77.8,113.2 75.2,114 73,115C70.8,116 70.8,117.2 67,118C63.2,118.8 51.2,136.3 50,120C48.8,103.7 43,36.7 60,20Z" fill="#b0b0b0"/>
<path d="M211.6,50C206.1,52 209.7,64.7 209.6,70C209.5,75.3 210.4,78.3 211,82C211.6,85.7 212.2,89 213,92C213.8,95 214.8,97.8 216,100C217.2,102.2 218.5,104.1 220,105C221.5,105.9 223.3,106 225,105.6C226.7,105.2 228.4,104 230,102.4C231.6,100.8 233.1,98.4 234.4,96C235.7,93.6 236.7,91 237.6,88C238.5,85 239,81 239.6,78C240.2,75 240.5,73.3 241,70C241.5,66.7 247.3,61.3 242.4,58C237.5,54.7 217.1,48 211.6,50Z" fill="#b0b0b0"/>
<path d="M461.2,578.2C461.9,576.8 462.7,575 465,575C467.3,575 472.7,577.2 475,578.2C477.3,579.2 478,578.1 478.8,580.8C479.6,583.5 478.8,590.5 480,594.5C481.2,598.5 485.8,601.6 486.2,604.5C486.6,607.4 485.2,611.6 482.5,612C479.8,612.4 474.6,609.1 470,607C465.4,604.9 457.6,601.2 455,599.5C452.4,597.8 453.9,598.2 454.5,596.5C455.1,594.8 457.8,591.7 458.8,589.5C459.8,587.3 460.1,585.1 460.5,583.2C460.9,581.3 460.4,579.6 461.2,578.2Z" fill="#b0b0b0"/>
<path d="M518,508C518.8,505.8 521.3,505.7 524,505C526.7,504.3 531,503.7 534,504C537,504.3 540.5,505.7 542,507C543.5,508.3 543.7,510.3 543,512C542.3,513.7 539.8,515.3 538,517C536.2,518.7 534.3,521 532,522C529.7,523 526.2,523.7 524,523C521.8,522.3 520,520.5 519,518C518,515.5 517.2,510.2 518,508Z" fill="#b0b0b0"/>
<path d="M616,130C617.3,128.2 621.3,131.1 624,131C626.7,130.9 629,128.7 632,129.6C635,130.5 638.7,134.9 642,136.4C645.3,137.9 649,138.5 652,138.4C655,138.3 657.3,136.6 660,135.6C662.7,134.6 666.3,132.3 668,132.4C669.7,132.5 670.2,134.6 670,136C669.8,137.4 668.7,139.6 667,141C665.3,142.4 662.8,143.6 660,144.4C657.2,145.2 654,145.3 650,145.6C646,145.9 641,146 636,146C631,146 623.3,146.3 620,145.6C616.7,144.9 616.7,144.6 616,142C615.3,139.4 614.7,131.8 616,130Z" fill="#b0b0b0"/>
<path d="M600,201C600.5,200 602.3,198.3 604,198C605.7,197.7 608,198.8 610,199C612,199.2 614,199 616,199C618,199 620.6,198.3 622,199C623.4,199.7 624.4,201.5 624.4,203C624.4,204.5 623.4,206.7 622,208C620.6,209.3 618,210.7 616,211C614,211.3 611.7,210.8 610,210C608.3,209.2 607.5,207 606,206C604.5,205 602,204.8 601,204C600,203.2 599.5,202 600,201Z" fill="#ffaa00"/>
<path d="M634,224C635,222.7 636.6,221.3 638,221C639.4,220.7 641.6,220.2 642.4,222C643.2,223.8 643.5,229.8 642.8,232C642.1,234.2 639.6,234.7 638,235C636.4,235.3 634,235 633,234C632,233 631.8,230.7 632,229C632.2,227.3 633,225.3 634,224Z" fill="#ffaa00"/>
<path d="M528,96C529.5,95 533.3,97.5 536,98C538.7,98.5 541.5,99 544,99C546.5,99 550.2,96.5 551,98C551.8,99.5 549.8,105.2 549,108C548.2,110.8 547.7,113.2 546,115C544.3,116.8 541.3,118.5 539,119C536.7,119.5 533.8,119 532,118C530.2,117 528.8,115.3 528,113C527.2,110.7 527,106.8 527,104C527,101.2 526.5,97 528,96Z" fill="#ffaa00"/>
<path d="M575,110C575.3,109.2 578.2,109 580,108C581.8,107 584,104.2 586,104C588,103.8 589.7,106.3 592,107C594.3,107.7 597.8,107.8 600,108C602.2,108.2 605.7,107.2 605,108C604.3,108.8 598.5,111.5 596,113C593.5,114.5 592,116.5 590,117C588,117.5 586,116.7 584,116C582,115.3 579.5,114 578,113C576.5,112 574.7,110.8 575,110Z" fill="#ffaa00"/>
<path d="M520,78 526,78 526.4,86 529,94 521,92Z" fill="#ffaa00"/>
<path d="M419,176C419.4,174.5 420.5,173.3 422,172C423.5,170.7 426,168.8 428,168C430,167.2 432.3,166.7 434,167C435.7,167.3 437.7,168.5 438,170C438.3,171.5 437.3,174.3 436,176C434.7,177.7 432,178.8 430,180C428,181.2 425.7,182.8 424,183C422.3,183.2 420.4,182.2 419.6,181C418.8,179.8 418.6,177.5 419,176Z" fill="#ffaa00"/>
<path d="M455.6,210C455.9,208.7 458.3,206.5 460,205C461.7,203.5 464.3,201.2 466,201C467.7,200.8 469.3,202.2 470,204C470.7,205.8 471,210.3 470,212C469,213.7 466,213.8 464,214C462,214.2 459.4,213.7 458,213C456.6,212.3 455.3,211.3 455.6,210Z" fill="#fcd37f"/>
<path d="M452,228C453.3,226.3 455.3,224.7 458,224C460.7,223.3 464.3,223.7 468,224C471.7,224.3 476.3,225.5 480,226C483.7,226.5 487,226 490,227C493,228 496.3,230.3 498,232C499.7,233.7 500.3,235.8 500,237C499.7,238.2 498,239 496,239C494,239 490.7,237.5 488,237C485.3,236.5 482.7,235.8 480,236C477.3,236.2 474.7,237.5 472,238C469.3,238.5 466.7,238.3 464,239C461.3,239.7 458,240.5 456,242C454,243.5 453.2,246.3 452,248C450.8,249.7 450,252 449,252C448,252 446.3,250 446,248C445.7,246 446.3,242.3 447,240C447.7,237.7 449.2,236 450,234C450.8,232 450.7,229.7 452,228Z" fill="#fcd37f"/>
<path d="M460,226C461,225.1 463.3,224.2 465,224.4C466.7,224.6 469.2,225.7 470,227C470.8,228.3 470.8,230.6 470,232C469.2,233.4 466.7,235.1 465,235.6C463.3,236.1 461,235.9 460,235C459,234.1 459,231.5 459,230C459,228.5 459,226.9 460,226Z" fill="#ffaa00"/>
<path d="M477,249C477.4,248.1 478.8,246.8 480,246.6C481.2,246.4 483.6,247.2 484.4,248C485.2,248.8 485.6,250.8 485,251.6C484.4,252.4 482.2,252.9 481,253C479.8,253.1 478.3,252.7 477.6,252C476.9,251.3 476.6,249.9 477,249Z" fill="#fcd37f"/>
<path d="M455.6,269C456.1,267.8 457.8,265.8 459,266C460.2,266.2 461.5,269 463,270C464.5,271 467.3,270.8 468,272C468.7,273.2 468.2,276.5 467,277C465.8,277.5 462.8,275.7 461,275C459.2,274.3 456.9,274 456,273C455.1,272 455.1,270.2 455.6,269Z" fill="#fcd37f"/>
<path d="M502,233C502.7,231.8 507.3,230.7 510,230C512.7,229.3 516.3,228.7 518,229C519.7,229.3 520.7,231 520,232C519.3,233 516.3,234.2 514,235C511.7,235.8 508,237.3 506,237C504,236.7 501.3,234.2 502,233Z" fill="#fcd37f"/>
<path d="M478,308C478.7,306.5 481.7,305.5 484,304C486.3,302.5 489.7,300 492,299C494.3,298 496.7,297.5 498,298C499.3,298.5 500.7,300.3 500,302C499.3,303.7 496,306.3 494,308C492,309.7 490.3,311.2 488,312C485.7,312.8 481.7,313.7 480,313C478.3,312.3 477.3,309.5 478,308Z" fill="#fcd37f"/>
<path d="M415,532C417.1,531.2 420.8,538.5 425,539.5C429.2,540.5 434.6,538.2 440,538.2C445.4,538.2 452.9,538.5 457.5,539.5C462.1,540.5 465.2,542.4 467.5,544.5C469.8,546.6 471,549.5 471.2,552C471.4,554.5 470,557.4 468.8,559.5C467.6,561.6 466.1,563.3 463.8,564.5C461.5,565.7 458.1,566.3 455,566.5C451.9,566.7 447.9,565.8 445,565.8C442.1,565.8 439.6,567.1 437.5,566.5C435.4,565.9 434.4,563.6 432.5,562C430.6,560.4 428.1,558.9 426.2,557C424.3,555.1 423.5,552.9 421.2,550.8C418.9,548.7 413.5,547.6 412.5,544.5C411.5,541.4 412.9,532.8 415,532Z" fill="#ffaa00"/>
<path d="M594,499C594.5,497.8 597,496.3 599,496C601,495.7 604.5,496.2 606,497C607.5,497.8 608.5,499.8 608,501C607.5,502.2 605,503.7 603,504C601,504.3 597.5,503.8 596,503C594.5,502.2 593.5,500.2 594,499Z" fill="#ffaa00"/>
<path d="M907.5,96.2C908.1,95.6 909.4,96.9 910,98.8C910.6,100.7 911.2,104.4 911.2,107.5C911.2,110.6 910.8,114.8 910,117.5C909.2,120.2 907.5,122.5 906.2,123.8C905,125 903.2,125.6 902.5,125C901.8,124.4 901.7,122.1 902,120C902.3,117.9 903.8,115.4 904.5,112.5C905.2,109.6 905.7,105.2 906.2,102.5C906.7,99.8 906.9,96.8 907.5,96.2Z" fill="#ffaa00"/>
<path d="M674,129C674.6,127.9 677.2,128 678,129C678.8,130 679.6,133.9 679,135C678.4,136.1 675.2,136.6 674.4,135.6C673.6,134.6 673.4,130.1 674,129Z" fill="#fcd37f"/>
<path d="M292,306C292.5,304.7 294.3,303.4 296,303C297.7,302.6 300.5,302.9 302,303.6C303.5,304.3 304.8,305.7 305,307C305.2,308.3 304.2,310.5 303,311.6C301.8,312.7 299.7,313.7 298,313.6C296.3,313.5 294,312.3 293,311C292,309.7 291.5,307.3 292,306Z" fill="#ffaa00"/>
<path d="M657,471C657.5,470.2 660.2,470 662,469.6C663.8,469.2 666.2,468.5 668,468.4C669.8,468.3 672.5,468.3 673,469C673.5,469.7 672.3,471.6 671,472.4C669.7,473.2 667,473.3 665,473.6C663,473.9 660.3,474.8 659,474.4C657.7,474 656.5,471.8 657,471Z" fill="#fcd37f"/>
<path d="M658,459C658.4,457.9 659.8,456.3 661,456C662.2,455.7 664.2,456.2 665,457C665.8,457.8 666.1,459.9 665.6,461C665.1,462.1 663.2,463.4 662,463.6C660.8,463.8 659.1,463.2 658.4,462.4C657.7,461.6 657.6,460.1 658,459Z" fill="#fcd37f"/>
<path d="M128,98C128.8,95.7 130.3,93.4 132,92C133.7,90.6 136.2,89.6 138,89.6C139.8,89.6 141.8,90.4 143,92C144.2,93.6 144.2,96.7 145,99C145.8,101.3 147,103.8 148,106C149,108.2 150.3,110 151,112C151.7,114 152.5,116 152,118C151.5,120 149.7,122.3 148,124C146.3,125.7 143.3,126.3 142,128C140.7,129.7 139.5,132.2 140,134C140.5,135.8 143.3,137.2 145,139C146.7,140.8 148.2,144.3 150,145C151.8,145.7 154.5,144.2 156,143C157.5,141.8 157.7,138.8 159,138C160.3,137.2 162.5,137 164,138C165.5,139 167.4,141.7 168,144C168.6,146.3 168.3,149.3 167.6,152C166.9,154.7 165.6,157.7 164,160C162.4,162.3 159,164.7 158,166C157,167.3 159.3,166.7 158,168C156.7,169.3 152.3,172.2 150,174C147.7,175.8 146.3,177.8 144,179C141.7,180.2 139,180.8 136,181C133,181.2 129.3,180.3 126,180C122.7,179.7 119,178.5 116,179C113,179.5 110.7,181.7 108,183C105.3,184.3 102.3,185.5 100,187C97.7,188.5 95.8,190.3 94,192C92.2,193.7 90.7,195.5 89,197C87.3,198.5 85.5,200.8 84,201C82.5,201.2 81.2,199.5 80,198C78.8,196.5 78,194 77,192C76,190 74.3,188.3 74,186C73.7,183.7 74,180.3 75,178C76,175.7 78.5,173.7 80,172C81.5,170.3 82.3,169.8 84,168C85.7,166.2 88,163.2 90,161C92,158.8 94.3,156.8 96,155C97.7,153.2 98.7,151.5 100,150C101.3,148.5 103.5,148 104,146C104.5,144 103,140.7 103,138C103,135.3 103.2,132.7 104,130C104.8,127.3 106.3,124.3 108,122C109.7,119.7 111.7,117.7 114,116C116.3,114.3 119.8,113.7 122,112C124.2,110.3 126,108.3 127,106C128,103.7 127.2,100.3 128,98Z" fill="#e60000"/>
<path d="M172,129C172.4,127.3 173.7,125.5 175,124C176.3,122.5 178.2,120.8 180,120C181.8,119.2 184.3,118.7 186,119C187.7,119.3 190.4,120.8 190.4,122C190.4,123.2 187.7,124.5 186,126C184.3,127.5 181.7,129.5 180,131C178.3,132.5 177.3,134.5 176,135C174.7,135.5 173.1,135 172.4,134C171.7,133 171.6,130.7 172,129Z" fill="#e60000"/>
<path d="M57,206C57.3,204.8 58.7,203.2 60,202C61.3,200.8 63.7,199.2 65,199C66.3,198.8 67.8,200 68,201C68.2,202 67,203.8 66,205C65,206.2 63.3,207.3 62,208C60.7,208.7 59.2,209.3 58.4,209C57.6,208.7 56.7,207.2 57,206Z" fill="#e60000"/>
<path d="M78,207C78.5,206.4 80.8,205.9 82,206C83.2,206.1 84.8,207 85,207.6C85.2,208.2 84,209.3 83,209.6C82,209.9 79.8,209.8 79,209.4C78.2,209 77.5,207.6 78,207Z" fill="#e60000"/>
<path d="M266,60C239.7,60.7 267,72 266,76C265,80 262,82 260,84C258,86 255.2,85.7 254,88C252.8,90.3 252.8,94.3 253,98C253.2,101.7 255.5,106.7 255,110C254.5,113.3 252.2,115.3 250,118C247.8,120.7 243.8,123.3 242,126C240.2,128.7 239,131.3 239,134C239,136.7 240.7,139.5 242,142C243.3,144.5 245.3,148 247,149C248.7,150 250.5,148.8 252,148C253.5,147.2 253.7,145.3 256,144C258.3,142.7 262.7,141.3 266,140C269.3,138.7 272.7,136.8 276,136C279.3,135.2 282.7,135 286,135C289.3,135 292.7,135.5 296,136C299.3,136.5 302.7,137.5 306,138C309.3,138.5 312.7,139.2 316,139C319.3,138.8 323.3,138.2 326,137C328.7,135.8 329.7,133.2 332,132C334.3,130.8 337,130.7 340,130C343,129.3 346.7,129 350,128C353.3,127 356.7,125.3 360,124C363.3,122.7 366.7,121 370,120C373.3,119 377.5,118.3 380,118C382.5,117.7 383,118.3 385,118C387,117.7 389.8,117.3 392,116C394.2,114.7 395.7,112.3 398,110C400.3,107.7 403.3,104.7 406,102C408.7,99.3 411.7,96.6 414,94C416.3,91.4 418.3,90.1 420,86.4C421.7,82.7 449.7,76.4 424,72C398.3,67.6 292.3,59.3 266,60Z" fill="#e60000"/>
<path d="M197.5,232.8C199.2,231.1 203.8,230.1 207.5,229C211.2,227.9 216.4,226.3 220,226.5C223.6,226.7 226.6,228.3 228.8,230.2C231,232.1 233,235.1 233,237.8C233,240.5 230.3,243.8 228.8,246.5C227.3,249.2 225.1,251.1 223.8,254C222.5,256.9 221.6,260.2 221.2,264C220.8,267.8 221.8,272.3 221.2,276.5C220.6,280.7 218.9,285.1 217.5,289C216.1,292.9 214.2,297.1 212.5,300.2C210.8,303.3 209.2,306.3 207.5,307.8C205.8,309.3 204.2,309.6 202.5,309C200.8,308.4 199.2,305.2 197.5,304C195.8,302.8 194.4,301.7 192.5,301.5C190.6,301.3 189.1,301.6 186.2,302.8C183.3,304.1 178.5,307.3 175,309C171.5,310.7 168.3,311.6 165,312.8C161.7,314.1 157.9,316.1 155,316.5C152.1,316.9 150,316.4 147.5,315.2C145,313.9 142.5,311.7 140,309C137.5,306.3 134.6,301.9 132.5,299C130.4,296.1 127.9,293.8 127.5,291.5C127.1,289.2 127.9,287.1 130,285.2C132.1,283.3 136.7,281.6 140,280.2C143.3,278.8 147.1,278.4 150,276.5C152.9,274.6 155.2,271.1 157.5,269C159.8,266.9 161.3,264.4 163.8,264C166.3,263.6 169.8,265.2 172.5,266.5C175.2,267.8 177.1,270.2 180,271.5C182.9,272.8 187.1,273.8 190,274C192.9,274.2 195.4,274.1 197.5,272.8C199.6,271.6 202.1,269.2 202.5,266.5C202.9,263.8 200.8,259.8 200,256.5C199.2,253.2 197.9,249.4 197.5,246.5C197.1,243.6 197.5,241.3 197.5,239C197.5,236.7 195.8,234.5 197.5,232.8Z" fill="#e60000"/>
<path d="M292,175C292.4,174 294.2,173.2 295,172C295.8,170.8 295.8,168.8 297,168C298.2,167.2 300.5,166.5 302,167C303.5,167.5 305.3,169.3 306,171C306.7,172.7 307.1,175.3 306.4,177C305.7,178.7 303.6,180.5 302,181C300.4,181.5 298.6,180.5 297,180C295.4,179.5 293.2,178.8 292.4,178C291.6,177.2 291.6,176 292,175Z" fill="#e60000"/>
<path d="M334,179C334.7,177.8 338.3,178.3 340,177C341.7,175.7 342,172.3 344,171C346,169.7 349,169.2 352,169C355,168.8 359.5,169.2 362,170C364.5,170.8 366.5,172.3 367,174C367.5,175.7 366.5,178.7 365,180C363.5,181.3 360.5,181.2 358,182C355.5,182.8 351.7,183.5 350,185C348.3,186.5 349.2,189.7 348,191C346.8,192.3 344.8,193.2 343,193C341.2,192.8 338.2,191.5 337,190C335.8,188.5 336.5,185.8 336,184C335.5,182.2 333.3,180.2 334,179Z" fill="#e60000"/>
<path d="M283,256C283.5,254.7 285.8,253.7 288,253C290.2,252.3 293.3,251.8 296,252C298.7,252.2 301.5,253.3 304,254C306.5,254.7 309.7,255 311,256C312.3,257 312.7,258.5 312,260C311.3,261.5 309,263.8 307,265C305,266.2 302.5,267.2 300,267C297.5,266.8 294.5,265 292,264C289.5,263 286.5,262.3 285,261C283.5,259.7 282.5,257.3 283,256Z" fill="#e60000"/>
<path d="M227,335C227,333.3 228.2,330.7 230,329C231.8,327.3 235.3,325.8 238,325C240.7,324.2 243.5,324.8 246,324C248.5,323.2 251.2,321.7 253,320C254.8,318.3 255.5,315.8 257,314C258.5,312.2 260,310 262,309C264,308 266.8,307.7 269,308C271.2,308.3 273.6,309.3 275,311C276.4,312.7 277.3,315.5 277.6,318C277.9,320.5 277.3,323.5 277,326C276.7,328.5 275.5,330.7 276,333C276.5,335.3 278,337.8 280,340C282,342.2 285.3,344.3 288,346C290.7,347.7 293.5,348.7 296,350C298.5,351.3 301.7,352.5 303,354C304.3,355.5 304.5,357.2 304,359C303.5,360.8 301.3,363.2 300,365C298.7,366.8 297.3,368.2 296,370C294.7,371.8 293.5,374.7 292,376C290.5,377.3 288.7,378.3 287,378C285.3,377.7 283,376 282,374C281,372 281.7,368.7 281,366C280.3,363.3 279.2,360.7 278,358C276.8,355.3 275.3,351.8 274,350C272.7,348.2 271.7,347.2 270,347C268.3,346.8 265.8,347.8 264,349C262.2,350.2 260.2,351.8 259,354C257.8,356.2 257.5,359.5 257,362C256.5,364.5 257,367.7 256,369C255,370.3 252.7,370.3 251,370C249.3,369.7 247.5,368.3 246,367C244.5,365.7 242.3,364.2 242,362C241.7,359.8 243.2,356.3 244,354C244.8,351.7 247,349.8 247,348C247,346.2 245.8,344.2 244,343C242.2,341.8 238.3,341.7 236,341C233.7,340.3 231.5,340 230,339C228.5,338 227,336.7 227,335Z" fill="#e60000"/>
<path d="M285,440C285,437.8 287.2,434.7 288,432C288.8,429.3 289.2,426.2 290,424C290.8,421.8 291.3,420.2 293,419C294.7,417.8 297.8,417 300,417C302.2,417 304.8,417.5 306,419C307.2,420.5 307.3,423.5 307,426C306.7,428.5 305.2,431.7 304,434C302.8,436.3 301.7,438.3 300,440C298.3,441.7 296,443.2 294,444C292,444.8 289.5,445.7 288,445C286.5,444.3 285,442.2 285,440Z" fill="#e60000"/>
<path d="M330,489C330,487.3 332.3,485.5 334,484C335.7,482.5 338.2,480.8 340,480C341.8,479.2 343.8,478.7 345,479C346.2,479.3 347.3,480.7 347,482C346.7,483.3 344.5,485.3 343,487C341.5,488.7 339.5,490.8 338,492C336.5,493.2 335.3,494.5 334,494C332.7,493.5 330,490.7 330,489Z" fill="#e60000"/>
<path d="M332,316C332.8,315 334.7,316.3 336,318C337.3,319.7 338.7,323.3 340,326C341.3,328.7 342.3,331.3 344,334C345.7,336.7 349.5,341 350,342C350.5,343 347.1,339.7 347.2,340C347.3,340.3 348.5,342.8 350.4,344C352.3,345.2 355.5,346.4 358.4,347.2C361.3,348 365.1,348.7 368,348.8C370.9,348.9 373.3,348.5 376,348C378.7,347.5 381.3,346.4 384,345.6C386.7,344.8 389.3,344.1 392,343.2C394.7,342.3 398,340.7 400,340C402,339.3 402,340 404,339C406,338 409.5,335.6 412,334C414.5,332.4 417.3,329.9 419,329.6C420.7,329.3 422.2,330.6 422,332C421.8,333.4 419.2,336 418,338C416.8,340 415.2,342 415,344C414.8,346 415.5,348.6 417,350C418.5,351.4 421.2,351.8 424,352.4C426.8,353 431,353 434,353.6C437,354.2 439.5,355.2 442,356C444.5,356.8 446.7,357.7 449,358.4C451.3,359.1 453.5,359.4 456,360C458.5,360.6 461.3,361.7 464,362C466.7,362.3 469.3,361.5 472,361.6C474.7,361.7 477.3,362.3 480,362.4C482.7,362.5 485.9,361.6 488,362C490.1,362.4 492.2,363.7 492.4,365C492.6,366.3 490.4,368.3 489,370C487.6,371.7 485.5,373.3 484,375C482.5,376.7 481.3,378.2 480,380C478.7,381.8 477.7,384.3 476,386C474.3,387.7 472.3,388.8 470,390C467.7,391.2 464.2,392 462,393C459.8,394 458,394.7 457,396C456,397.3 455.5,399.5 456,401C456.5,402.5 458,404.7 460,405C462,405.3 465.3,403.8 468,403C470.7,402.2 473.5,401 476,400C478.5,399 481.2,396.8 483,397C484.8,397.2 486.7,399.2 487,401C487.3,402.8 485.8,405.8 485,408C484.2,410.2 482.2,412 482,414C481.8,416 482.3,419.3 484,420C485.7,420.7 489.7,418.7 492,418C494.3,417.3 496.5,415.7 498,416C499.5,416.3 501,418 501,420C501,422 499.5,425.7 498,428C496.5,430.3 494.3,432.3 492,434C489.7,435.7 486.7,437.7 484,438C481.3,438.3 478.3,437.3 476,436C473.7,434.7 471.7,432 470,430C468.3,428 467.7,424.3 466,424C464.3,423.7 461.7,426 460,428C458.3,430 457.3,433.5 456,436C454.7,438.5 452,441.5 452,443.2C452,444.9 454.3,444.5 456,446C457.7,447.5 460.3,449.7 462,452C463.7,454.3 464.3,457.7 466,460C467.7,462.3 469.7,464.5 472,466C474.3,467.5 477.7,467.7 480,469C482.3,470.3 485.3,472.2 486,474C486.7,475.8 485.3,478 484,480C482.7,482 480.3,484.3 478,486C475.7,487.7 472.7,488.8 470,490C467.3,491.2 464.3,493 462,493C459.7,493 457.7,491.5 456,490C454.3,488.5 453.7,485.7 452,484C450.3,482.3 448.7,481 446,480C443.3,479 439.3,478.8 436,478C432.7,477.2 429.3,475.8 426,475C422.7,474.2 419.3,473.3 416,473C412.7,472.7 409,472.5 406,473C403,473.5 400.3,474.8 398,476C395.7,477.2 394,478.2 392,480C390,481.8 388,484.7 386,487C384,489.3 381.8,492.7 380,494C378.2,495.3 376.5,495.7 375,495C373.5,494.3 371.8,492.2 371,490C370.2,487.8 369.8,485 370,482C370.2,479 371,474.8 372,472C373,469.2 377.7,468.3 376,465C374.3,461.7 365.1,454.5 362,452C358.9,449.5 359,450 357.6,450C356.2,450 355.2,452.7 353.6,452C352,451.3 349.9,448.3 348,446C346.1,443.7 343.7,441 342,438C340.3,435 339.3,431.3 338,428C336.7,424.7 335.7,421 334,418C332.3,415 330.3,412.3 328,410C325.7,407.7 322.7,405.7 320,404C317.3,402.3 314.3,401.7 312,400C309.7,398.3 306.8,396.3 306,394C305.2,391.7 306,388 307,386C308,384 310.2,383.3 312,382C313.8,380.7 316.7,380 318,378C319.3,376 320.4,372.3 320,370C319.6,367.7 316.3,366.3 315.6,364C314.9,361.7 315.3,357.3 316,356C316.7,354.7 318,356.3 320,356C322,355.7 326.2,355.7 328,354C329.8,352.3 331.3,348.3 331,346C330.7,343.7 327.2,342.2 326,340C324.8,337.8 323.7,334.7 324,333C324.3,331.3 326.8,331.5 328,330C329.2,328.5 330.3,326.3 331,324C331.7,321.7 331.2,317 332,316Z" fill="#e60000"/>
<path d="M352.8,291.2C352.9,289.9 354.1,288.3 355.2,286.4C356.3,284.5 357.9,281.9 359.2,280C360.5,278.1 361.6,276 363.2,274.9C364.8,273.8 366.5,273.9 368.8,273.6C371.1,273.3 374.1,273.2 376.8,273.3C379.5,273.4 382.5,273.4 384.8,273.9C387.1,274.3 388.9,274.7 390.4,276C391.9,277.3 392.8,279.6 393.6,281.6C394.4,283.6 394.4,286.1 395.2,288C396,289.9 397.2,291.5 398.4,292.8C399.5,294.1 401.8,294.9 402.1,296C402.4,297.1 401.3,298.1 400,299.2C398.7,300.3 396.4,301.5 394.4,302.4C392.4,303.3 390.4,304.3 388,304.8C385.6,305.3 382.5,305.9 380,305.6C377.5,305.3 374.8,304.3 372.8,303.2C370.8,302.1 369.5,300.4 368,299.2C366.5,298 365.6,296.7 364,296C362.4,295.3 360,295.5 358.4,295.2C356.8,294.9 355.3,295.1 354.4,294.4C353.5,293.7 352.7,292.5 352.8,291.2Z" fill="#e60000"/>
<path d="M508,428C508.5,425.8 510,424 512,423C514,422 517.3,421.7 520,422C522.7,422.3 525.3,424.2 528,425C530.7,425.8 534.3,425.8 536,427C537.7,428.2 538.5,430.3 538,432C537.5,433.7 534.8,436.5 533,437C531.2,437.5 528.7,435.7 527,435C525.3,434.3 524,432.5 523,433C522,433.5 520.8,436.2 521,438C521.2,439.8 523.7,442 524,444C524.3,446 524.3,448.3 523,450C521.7,451.7 518.8,453 516,454C513.2,455 508.7,456 506,456C503.3,456 500.7,455 500,454C499.3,453 500.3,451.2 502,450C503.7,448.8 508.2,448.3 510,447C511.8,445.7 513.2,443.8 513,442C512.8,440.2 509.8,438.3 509,436C508.2,433.7 507.5,430.2 508,428Z" fill="#e60000"/>
<path d="M581,449C581.8,446.3 583.8,445.2 586,444C588.2,442.8 592.3,441.1 594,441.6C595.7,442.1 595.1,445.6 596,447C596.9,448.4 599.3,448.8 599.6,450C599.9,451.2 599.1,453 598,454C596.9,455 593.7,455 593,456C592.3,457 593,459.5 594,460C595,460.5 598.1,458.5 599,459C599.9,459.5 600.4,462 599.6,463C598.8,464 596.3,464.8 594,465C591.7,465.2 588.2,464.8 586,464C583.8,463.2 581.8,462.5 581,460C580.2,457.5 580.2,451.7 581,449Z" fill="#e60000"/>
<path d="M522,474C523,472.2 525.3,470.8 527,469C528.7,467.2 530.4,464.2 532,463C533.6,461.8 535.6,461.1 536.4,461.6C537.2,462.1 537.6,464.6 537,466C536.4,467.4 534,468.3 533,470C532,471.7 531.5,474 531,476C530.5,478 531,480.7 530,482C529,483.3 526.5,484.3 525,484C523.5,483.7 521.5,481.7 521,480C520.5,478.3 521,475.8 522,474Z" fill="#e60000"/>
<path d="M339,508C339.3,506 341.8,505 344,504C346.2,503 349.3,502 352,502C354.7,502 357.3,503 360,504C362.7,505 365.3,507.7 368,508C370.7,508.3 373.5,506.3 376,506C378.5,505.7 380.8,505.5 383,506C385.2,506.5 387.5,507.7 389,509C390.5,510.3 391.7,512.5 392,514C392.3,515.5 392.5,517.5 391,518C389.5,518.5 385.5,516.7 383,517C380.5,517.3 377.8,518.8 376,520C374.2,521.2 374.7,523.3 372,524C369.3,524.7 363.7,524.3 360,524C356.3,523.7 353.3,523.3 350,522C346.7,520.7 336.3,515.8 340,516C343.7,516.2 368,521.7 372,523C376,524.3 366.7,524 364,524C361.3,524 358.7,523.7 356,523C353.3,522.3 350.3,521.2 348,520C345.7,518.8 343.5,518 342,516C340.5,514 338.7,510 339,508Z" fill="#e60000"/>
<path d="M338,480C339.2,478.2 343.5,478.7 345,479C346.5,479.3 347.3,480.5 347,482C346.7,483.5 344.5,486.7 343,488C341.5,489.3 338.8,491.3 338,490C337.2,488.7 336.8,481.8 338,480Z" fill="#e60000"/>
<path d="M371,480C371.2,477 372,473 373,470C374,467 375.5,463.7 377,462C378.5,460.3 381.2,454.3 382,460C382.8,465.7 383.2,490.3 382,496C380.8,501.7 376.7,495.3 375,494C373.3,492.7 372.7,490.3 372,488C371.3,485.7 370.8,483 371,480Z" fill="#e60000"/>
<path d="M422.5,549.5C423.1,548.3 425,546.7 427.5,545.8C430,544.9 433.8,544.2 437.5,544C441.2,543.8 446.2,544 450,544.5C453.8,545 457.8,545.8 460,547C462.2,548.2 462.8,550.1 463,552C463.2,553.9 462.5,556.7 461.2,558.2C459.9,559.7 457.7,560.7 455,560.8C452.3,560.9 448.3,559.6 445,559C441.7,558.4 437.9,557.5 435,557C432.1,556.5 429.4,556.4 427.5,555.8C425.6,555.2 424.6,554.2 423.8,553.2C423,552.2 421.9,550.7 422.5,549.5Z" fill="#e60000"/>
<path d="M329,70C323.8,71.3 329.7,75.7 329,78C328.3,80.3 326,82 325,84C324,86 322.7,87.7 323,90C323.3,92.3 325.7,96.5 327,98C328.3,99.5 329.7,99.7 331,99C332.3,98.3 333.5,95.5 335,94C336.5,92.5 337.8,91 340,90C342.2,89 345.7,88.7 348,88C350.3,87.3 352.3,87 354,86C355.7,85 357,84.7 358,82C359,79.3 364.8,72 360,70C355.2,68 334.2,68.7 329,70Z" fill="#ffaa00"/>
<path d="M331.2,381.6C331.9,380 333.9,379.1 336,378.4C338.1,377.7 341.3,377.6 344,377.6C346.7,377.6 349.6,378.9 352,378.4C354.4,377.9 356.3,375.6 358.4,374.4C360.5,373.2 362.8,371.3 364.8,371.2C366.8,371.1 369.3,372.1 370.4,373.6C371.5,375.1 371.3,377.6 371.2,380C371.1,382.4 369.6,385.3 369.6,388C369.6,390.7 370.4,393.6 371.2,396C372,398.4 373.7,400 374.4,402.4C375.1,404.8 374.1,408.7 375.2,410.4C376.3,412.1 378.5,412.5 380.8,412.8C383.1,413.1 386.1,412.4 388.8,412C391.5,411.6 394.4,411.2 396.8,410.4C399.2,409.6 401.1,408.4 403.2,407.2C405.3,406 407.7,404 409.6,403.2C411.5,402.4 413.2,401.7 414.4,402.4C415.6,403.1 416.4,405.1 416.8,407.2C417.2,409.3 417.2,412.8 416.8,415.2C416.4,417.6 415.6,419.5 414.4,421.6C413.2,423.7 411.2,425.9 409.6,428C408,430.1 406.1,432.3 404.8,434.4C403.5,436.5 401.3,439.9 401.6,440.8C401.9,441.7 404.5,440.7 406.4,440C408.3,439.3 410.4,437.7 412.8,436.8C415.2,435.9 418.4,434.8 420.8,434.4C423.2,434 425.5,433.9 427.2,434.4C428.9,434.9 430.9,436.3 431.2,437.6C431.5,438.9 430.3,441.1 428.8,442.4C427.3,443.7 424.8,444.5 422.4,445.6C420,446.7 417.1,447.7 414.4,448.8C411.7,449.9 408.8,451.1 406.4,452C404,452.9 403.1,453.2 400,453.9C396.9,454.6 391.7,454.5 388,456C384.3,457.5 380.6,460.3 377.9,463C375.2,465.7 373.3,468.9 372,472C370.7,475.1 371.6,480.6 369.9,481.9C368.2,483.2 364,485 361.9,480C359.8,475 357.4,457.7 357,452C356.6,446.3 359.4,447.7 359.2,445.6C359,443.5 356.8,441.6 356,439.2C355.2,436.8 354.9,433.9 354.4,431.2C353.9,428.5 353.5,425.6 352.8,423.2C352.1,420.8 351.3,418.9 350.4,416.8C349.5,414.7 348.5,412 347.2,410.4C345.9,408.8 344,408.5 342.4,407.2C340.8,405.9 338.9,404.3 337.6,402.4C336.3,400.5 335.3,398.4 334.4,396C333.5,393.6 332.5,390.4 332,388C331.5,385.6 330.5,383.2 331.2,381.6Z" fill="#ffaa00"/>
<path d="M316,352C316.7,350.3 318.3,349.9 320,349.6C321.7,349.3 324,350.1 326.4,350.4C328.8,350.7 332.3,350.5 334.4,351.2C336.5,351.9 338.1,353.1 339.2,354.4C340.3,355.7 341.1,357.9 340.8,359.2C340.5,360.5 339.5,361.9 337.6,362.4C335.7,362.9 332,362.7 329.6,362.4C327.2,362.1 325.5,361.2 323.2,360.8C320.9,360.4 317.2,361.5 316,360C314.8,358.5 315.3,353.7 316,352Z" fill="#ffaa00"/>
<path d="M440.8,432.8C440.9,431.8 442.7,430.1 444,428.8C445.3,427.5 447.4,425.5 448.8,424.8C450.2,424.1 452,424.3 452.5,424.8C453,425.3 452.8,426.8 452,428C451.2,429.2 449.5,430.9 448,432C446.5,433.1 444.4,434.6 443.2,434.7C442,434.8 440.7,433.8 440.8,432.8Z" fill="#ffaa00"/>
<path d="M441,433C440.7,431.9 442.7,429.3 444,428C445.3,426.7 447.5,425.2 449,425C450.5,424.8 452.7,426 453,427C453.3,428 452.2,429.8 451,431C449.8,432.2 447.7,434.1 446,434.4C444.3,434.7 441.3,434.1 441,433Z" fill="#ffaa00"/>
<path d="M364.8,428C365.7,426.1 367.5,425.6 369.6,424.8C371.7,424 374.7,423.9 377.6,423.2C380.5,422.5 384.3,421.9 387.2,420.8C390.1,419.7 392.8,417.5 395.2,416.8C397.6,416.1 400.3,416 401.6,416.5C402.9,417 403.5,418.4 403.2,420C402.9,421.6 401.3,424.3 400,426.4C398.7,428.5 397.1,430.7 395.2,432.8C393.3,434.9 390.9,437.1 388.8,439.2C386.7,441.3 384.5,443.5 382.4,445.6C380.3,447.7 377.6,449.3 376,452C374.4,454.7 374.1,458.9 372.8,461.6C371.5,464.3 369.6,466.9 368,468C366.4,469.1 363.6,472 363.2,468C362.8,464 365.5,449.3 365.6,444C365.7,438.7 364.1,438.7 364,436C363.9,433.3 363.9,429.9 364.8,428Z" fill="#fcd37f"/>
<path d="M111,121C112.8,119.8 115.5,119.2 118,119C120.5,118.8 124.2,118.8 126,120C127.8,121.2 128.5,123.7 129,126C129.5,128.3 128.2,132.3 129,134C129.8,135.7 132.8,134.8 134,136C135.2,137.2 136.3,139 136,141C135.7,143 133.5,145.8 132,148C130.5,150.2 128.7,152 127,154C125.3,156 123.8,158 122,160C120.2,162 117,164.7 116,166C115,167.3 117,166.7 116,168C115,169.3 112,172.2 110,174C108,175.8 106.3,177.3 104,179C101.7,180.7 98.7,182.7 96,184C93.3,185.3 90.3,186.7 88,187C85.7,187.3 83.2,187 82,186C80.8,185 80.7,182.7 81,181C81.3,179.3 82.5,177.5 84,176C85.5,174.5 87.8,174.7 90,172C92.2,169.3 96,162.8 97,160C98,157.2 95.5,156.3 96,155C96.5,153.7 98.3,152.8 100,152C101.7,151.2 104.8,151.7 106,150C107.2,148.3 107,144.7 107,142C107,139.3 106,136.7 106,134C106,131.3 106.2,128.2 107,126C107.8,123.8 109.2,122.2 111,121Z" fill="#730000"/>
<path d="M255,88C255.8,85.9 257.8,85.9 260,85.6C262.2,85.3 265.8,85.3 268,86C270.2,86.7 271.5,88.3 273,90C274.5,91.7 275.5,94.3 277,96C278.5,97.7 280,99.3 282,100C284,100.7 287,100.7 289,100C291,99.3 292.5,97.5 294,96C295.5,94.5 296.3,92.3 298,91C299.7,89.7 301.7,88.7 304,88.4C306.3,88.1 309.7,88.4 312,89C314.3,89.6 316.8,90.7 318,92C319.2,93.3 319.7,95.7 319,97C318.3,98.3 316.5,99.2 314,100C311.5,100.8 307,101.3 304,102C301,102.7 298.5,103.2 296,104C293.5,104.8 291.3,105.7 289,107C286.7,108.3 284.5,110.3 282,112C279.5,113.7 276.7,116 274,117C271.3,118 268.5,118.2 266,118C263.5,117.8 260.7,117.7 259,116C257.3,114.3 256.7,111 256,108C255.3,105 255.2,101.3 255,98C254.8,94.7 254.2,90.1 255,88Z" fill="#730000"/>
<path d="M294,121C294.4,120 295.7,118.7 297,118.4C298.3,118.1 300.7,118.4 302,119C303.3,119.6 304.8,120.9 305,122C305.2,123.1 304.2,124.9 303,125.6C301.8,126.3 299.4,126.6 298,126.4C296.6,126.2 295.3,125.3 294.6,124.4C293.9,123.5 293.6,122 294,121Z" fill="#730000"/>
<path d="M143.8,301.5C144,299.2 144.8,295.7 146.2,292.8C147.6,289.9 150.2,286.5 152.5,284C154.8,281.5 157.1,279.5 160,277.8C162.9,276.1 168.1,273.4 170,274C171.9,274.6 170.2,279.2 171.2,281.5C172.2,283.8 174.7,285.5 176.2,287.8C177.7,290.1 179.6,292.9 180,295.2C180.4,297.5 180.5,299.8 178.8,301.5C177.1,303.2 173.1,304.1 170,305.2C166.9,306.2 163.3,307.2 160,307.8C156.7,308.4 152.5,308.7 150,308.5C147.5,308.3 146,307.7 145,306.5C144,305.3 143.6,303.8 143.8,301.5Z" fill="#730000"/>
<path d="M351,361C351.2,359.8 353.2,358.5 355,358C356.8,357.5 359.5,357.8 362,358C364.5,358.2 367.7,359.2 370,359C372.3,358.8 374,357.7 376,357C378,356.3 379.7,355.3 382,355C384.3,354.7 387,354.7 390,355C393,355.3 397,356.5 400,357C403,357.5 406.2,357.3 408,358C409.8,358.7 411,359.9 411,361C411,362.1 409.8,363.6 408,364.4C406.2,365.2 403,365.5 400,365.6C397,365.7 392.8,365.3 390,365C387.2,364.7 385.3,363.6 383,363.6C380.7,363.6 378.5,364.6 376,365C373.5,365.4 370.7,365.8 368,366C365.3,366.2 362.3,366.6 360,366.4C357.7,366.2 355.5,365.9 354,365C352.5,364.1 350.8,362.2 351,361Z" fill="#730000"/>
</g>
<path d="M617.6,509.6C617.9,508.7 618.9,507.1 620,506.4C621.1,505.7 622.7,505.5 624,505.6C625.3,505.7 627.2,506.5 628,507.2C628.8,507.9 629.2,508.9 628.8,509.6C628.4,510.3 626.8,510.8 625.6,511.2C624.4,511.6 622.8,511.9 621.6,512C620.4,512.1 619.1,512.1 618.4,511.7C617.7,511.3 617.3,510.5 617.6,509.6Z" fill="#f5f5f5"/>
<path d="M46,270C46.4,268.8 48,268.8 49,269C50,269.2 50.7,270.5 52,271C53.3,271.5 55.2,271.4 57,272C58.8,272.6 62.2,273.8 63,274.4C63.8,275 63.2,275.7 62,275.6C60.8,275.5 57.8,274.3 56,274C54.2,273.7 52,272.9 51,273.6C50,274.3 50,276.4 50,278C50,279.6 51.1,281.8 51,283C50.9,284.2 50.2,285.2 49.6,285C49,284.8 48.1,283.5 47.6,282C47.1,280.5 46.7,278 46.4,276C46.1,274 45.6,271.2 46,270Z" fill="#f5f5f5"/>
<g fill="none" stroke="#6e6e6e" stroke-width="0.6" stroke-opacity="0.8" stroke-linejoin="round">
<path d="M66,117 80,112 97,109 108,107 114,110 126,112 140,111 160,115 182,119"/>
<path d="M195,55 190,80 185,105 182,119 186,126 178,138 172,148 169,160 161,207"/>
<path d="M44,177 111,196 161,207 208,218 257,225"/>
<path d="M111,196 95,261 168,368 169,370 172,380 168,390 162,400 158,410 160,420"/>
<path d="M208,217 194,290 187,328"/>
<path d="M187,328 188,335 184,338 182,346 172,345 170,356 169,370"/>
<path d="M187,328 276,340 399,354"/>
<path d="M206,57 204,74 208,90 215,102 223,112 219,122 217,136 228,139 231,154 238,168 246,166 260,164 266,168 268,160"/>
<path d="M268,160 256,225 255,248 286,253 372,262"/>
<path d="M268,160 330,168 378,172"/>
<path d="M387,84 382,152 377,203 372,262"/>
<path d="M286,253 281,303 276,340 258,470"/>
<path d="M286,253 405,265 402,314 399,354 400,356"/>
<path d="M382,152 440,155 500,157.5"/>
<path d="M377,210 380,217.6 467,223 476.6,226.7 486.4,226 499,230 505,245 510,262 514,278 518,291 526,298 532,305 532,359"/>
<path d="M375,218 371,261.6"/>
<path d="M404,288 472,290 518,291"/>
<path d="M400,356 532,359"/>
<path d="M399,355 381,364 436,369 434,410 444,416 460,422 480,428 500,432 520,426 533,428"/>
<path d="M381,365 373,468 306,462"/>
<path d="M489,89 493,112 496,130 499,146 500,158 494,164 500,170 501,203 500,212 498,216 500,228"/>
<path d="M500,212 585,210"/>
<path d="M515,278 584,276 588,282"/>
<path d="M568,138 567,150 558,160 560,174 570,188 584,202 586,216"/>
<path d="M586,230 642,229"/>
<path d="M585,210 588,218 596,232 604,242 603,248 592,258 591,270 586,278 588,294 600,308 608,316 608,328 620,338 626,352 630,356 624,364"/>
<path d="M597,140 610,147 635,150 650,160"/>
<path d="M650,245 651,265 652.5,292.5 655,312.5 650,330 648.8,335 645,342.5 641,350 635,355 630,352.5 627.5,360 623.8,366 620,375"/>
<path d="M652,245 695,241.5 717.5,239"/>
<path d="M696,241.5 702,304"/>
<path d="M650,332.5 660,330 670,328.8 677.5,323.8 685,320 690,312.5 695,307.5 701,302.5 707.5,300 715,305 725,305 735,303.8 742.5,310 743.8,317.5 748.8,322.5 752.5,326 756,330 750,337.5 742.5,345 735,350 727.5,355"/>
<path d="M742.5,310 747.5,300 755,292.5 762.5,282.5 768.8,270 770,257.5 769.5,245"/>
<path d="M766,226.5 770,255 772.5,275 792,271.5 845,261 855,259.5"/>
<path d="M777.5,221.5 847.5,210 857.5,220 861,231.5 869,245 860,254 857.5,261.5"/>
<path d="M861,223 877.5,230"/>
<path d="M866,135 876,168 880,186 882,216 880,229"/>
<path d="M894,127 889,160 891,181"/>
<path d="M900,122 918,170"/>
<path d="M880,184 891,181 920,174"/>
<path d="M881,200 908,194 911,206"/>
<path d="M752.5,326 756,330 762.5,335 767.5,332.5 775,328.8 782.5,323.8 787.5,320 790,312.5 792.5,305 795,301 800,298.8 805,292.5 810,285 812.5,278.8 817.5,280 821,277.5 827.5,280 833.8,287.5 837.5,295 845,301 852.5,307.5 856,315"/>
<path d="M792.5,281 800,276 806,271 812.5,270 818.8,272.5 821,277.5"/>
<path d="M791.5,271.5 792.5,281"/>
<path d="M727.5,354.5 800,342 870,330"/>
<path d="M620,367 625,366 650,361 727.5,354.5"/>
<path d="M616,400.5 652.5,398 698.8,393.8 722.5,390 740,388.8"/>
<path d="M722.5,390 725,382.5 735,377.5 745,372.5 752.5,365 760,357.5 763.8,350"/>
<path d="M740,388.8 755,382.5 770,380 780,379.5 785,383.8 795,385 810,383.8 830,397.5"/>
<path d="M740,390 750,400 757.5,409 765,415.5 777.5,428 790,443"/>
<path d="M698.8,393.8 703.8,409 707.5,420.5 717.5,455.5 720,483 723,488 774,486 778,489 779,480"/>
<path d="M665,485.5 690,484 720,483"/>
<path d="M665,485.5 664,498"/>
<path d="M652.5,398 654,458 656,500.5"/>
<path d="M533,358 534,370 536,390 537,428 545,437 546,470 556,492 552,510 550,522"/>
<path d="M534,370 612,367 614,376 620,378 624,364"/>
<path d="M546,449 599,448"/>
<path d="M615,390 610,404 602,420 598,436 599,448 600,456 603,466 596,478 592.4,492 628,491 630,502"/>
<path d="M861.5,262 864,275"/>
</g>
<g fill="none" stroke="#8a8a8a" stroke-width="0.5" stroke-opacity="0.7">
<path d="M79.5,38 77.5,50 79,70 75,85 72.5,100 65.5,117.5 61,130 50,150 44.5,160 42.5,179 37.5,194 31,209 35,229 34,241.5 39,261.5 45,274 46,289 51,306.5 49,314 57.5,334 61,358 80,365.5 84,372 94,377 95,383 105,392 110,402 109,415 160,420.5 155,425 225,464 250,468 259,468 274,471 275,463 306,462 312.5,470.5 322.5,480.5 332.5,493 337.5,505.5 342.5,518 350,524 360,529 370,533 375,520.5 385,517 400,520.5 410,530.5 415,537 422.5,552 430,562 437.5,572 439,582 445,594.5 455,599 470,604.5 480,608 484.5,606 482.5,594.5 481,582 482.5,574.5 487.5,564.5 495,554.5 505,547 515,542 525,537 532.5,528 549.6,522.4 556,521.9 564,522.4 572,524 580,522.4 584.8,520.8 588,519.7 591.2,522.4 590.4,525.6 594.4,524.8 599.2,526.4 601.6,530.4 605.6,532.8 610.4,533.6 614.4,531.2 618.4,529.9 621.6,532.8 623.2,529.6 624.8,525.6 627.2,524 631.2,527.2 636,531.2 640,535.2 645.6,531.2 642.4,528 637.6,527.2 634.4,524 632,520.8 634.4,518.4 637.6,516 636,512 632.8,512 630.4,514.4 628.8,511.2 632,508.8 634.4,506.4 639.2,504 645.6,502.4 652,500.8 658.4,500 662.4,496.8 664.8,499.2 668,504 672.8,502.4 677.6,500.8 683.2,498.4 688.8,498.4 693.6,497.6 700,498.5 710,502 716,511 726,510 736,502 744,500 756,510 768,519 772,522 771,540 772,548 778,546 774,553 784,566 789,570 790,564 794,574 800,584 812,596 816,601 830,597 831,594 832,580 830,560 820,542 810,524 800,506 792,492 789,480 787.5,478 792.5,453 800,438 812.5,428 822.5,413 832.5,403 842.5,395.5 848,385 853.6,377.4 860.3,375.2 866,374 869.3,368.5 865,367.4 858,361.8 862.6,358.4 872.6,351.7 871.5,346 858,346 856,341.7 865,340.5 869,338 867,331.6 865,326 858,325 853.6,322.7 856,318 854.7,311.5 852.5,300 847,287 846,276 848,273 849.5,280 851.5,289 856.5,296 860.5,307 862.5,317 865,309 867,300 872.6,291.4 871.5,284.7 865,273.5 863,268 862,262 866,266 872.6,273.5 877,264.5 880.5,258 881,250 880,242 876,236 880,229 884,222.5 896,214.5 908,207.5 916,204 920,203 928,199 938,194 940,186 936,188 928,192 924,188 920,178 918,170 921,162 924,152 932,144 938,136 948,128 958,120 965,112.5 950,95 937.5,67.5 929,64 920,70 915,65.5 910,82.5 905,100 900,117.5 896,122.5 875,132.5 866,135 842.5,140.5 840,142 830,156 824,166 828,172 826,178 812,182 800,188 786,191 784,194 789,201 784,208 776,218 766,224 756,230 744,237 734,242 728,242 719,237 722,230 724,224 730,214 730,206 726,194 722,185 716,186 711,193 706,196 704,190 708,186 712,178 711,164 706,159 696,155 686,150 682,152 681,159 677,164 674,172 675,165 672,168 665,176 661,194 665,206 668,218 668,230 662,242 655,247.6 650,246 645,236 643,226 641,210 641,200 642,190 644,182 648,174 650,165 645,172 640,180 635,183 637,180 642,170 646,160 652,153 660,149 670,146 678,144 684,148 686,145 697,144 689,133 679,135 678,129 674,129 664,132 652,138 642,136 632,129 625,131 626,126 631,120 634,116.5 628,119 622,125 616,130 610,136 605,132 598,135 590,139 585,132.5 578,134 570,137.5 587.5,120 605,107 585,104 575,106 565,101 550,95 537.5,96 527,93.5 525,80 520.5,80 520.5,88 500,88 425,86 386,84 325,78 250,64.5 194,54.5 150,44 111,32.5 110,40 110.5,48 109,56 106,63 102,69 99.5,71.5 98,69 101,62 104.5,55 106.5,48 104,44 98,43.5 88,42Z"/>
<path d="M879,231 886,226 894,221.5 902,216.5 909,213 909.5,215.5 905,220 897,225.5 888,231 880,235.5Z"/>
</g>
<path d="M830.5,598 Q829.5,606 820,610.5 T803,616" stroke="#b0b0b0" stroke-width="1.2" stroke-dasharray="3 1.6" fill="none"/>
<g stroke="#666" stroke-width="0.8">
<line x1="875" y1="122" x2="875" y2="138"/>
<line x1="917" y1="169.6" x2="931" y2="169.6"/>
<line x1="938" y1="194" x2="946" y2="194"/>
<line x1="913" y1="203" x2="930" y2="217"/>
<line x1="902" y1="208" x2="915" y2="217.4"/>
<line x1="874" y1="248" x2="890" y2="248"/>
<line x1="864" y1="281.5" x2="886" y2="281.5"/>
<line x1="865.5" y1="294" x2="882.5" y2="308"/>
</g>
<g font-family="'Liberation Sans', sans-serif" font-size="18.5" fill="#4c5056" stroke="#4c5056" stroke-width="0.3" text-anchor="middle">
<text x="156" y="91" textLength="26.5" lengthAdjust="spacingAndGlyphs">WA</text>
<text x="141.5" y="165" textLength="22" lengthAdjust="spacingAndGlyphs">OR</text>
<text x="211" y="193" textLength="15" lengthAdjust="spacingAndGlyphs">ID</text>
<text x="317" y="128" textLength="22.5" lengthAdjust="spacingAndGlyphs">MT</text>
<text x="445" y="128" textLength="23" lengthAdjust="spacingAndGlyphs">ND</text>
<text x="439" y="195" textLength="20" lengthAdjust="spacingAndGlyphs">SD</text>
<text x="321" y="222" textLength="26" lengthAdjust="spacingAndGlyphs">WY</text>
<text x="149" y="268" textLength="22" lengthAdjust="spacingAndGlyphs">NV</text>
<text x="89" y="312" textLength="21" lengthAdjust="spacingAndGlyphs">CA</text>
<text x="239" y="296" textLength="22" lengthAdjust="spacingAndGlyphs">UT</text>
<text x="338" y="310" textLength="23" lengthAdjust="spacingAndGlyphs">CO</text>
<text x="442" y="265" textLength="21" lengthAdjust="spacingAndGlyphs">NE</text>
<text x="465" y="334" textLength="18" lengthAdjust="spacingAndGlyphs">KS</text>
<text x="537.5" y="141" textLength="25" lengthAdjust="spacingAndGlyphs">MN</text>
<text x="611" y="189" textLength="19" lengthAdjust="spacingAndGlyphs">WI</text>
<text x="555" y="250" textLength="16" lengthAdjust="spacingAndGlyphs">IA</text>
<text x="562" y="310" textLength="25" lengthAdjust="spacingAndGlyphs">MO</text>
<text x="625" y="293" textLength="14" lengthAdjust="spacingAndGlyphs">IL</text>
<text x="675" y="293" textLength="15" lengthAdjust="spacingAndGlyphs">IN</text>
<text x="733.5" y="280" textLength="24" lengthAdjust="spacingAndGlyphs">OH</text>
<text x="692.5" y="217" textLength="17.5" lengthAdjust="spacingAndGlyphs">MI</text>
<text x="706" y="342" textLength="20" lengthAdjust="spacingAndGlyphs">KY</text>
<text x="772.5" y="312" textLength="27" lengthAdjust="spacingAndGlyphs">WV</text>
<text x="820" y="322" textLength="20" lengthAdjust="spacingAndGlyphs">VA</text>
<text x="816" y="250" textLength="20" lengthAdjust="spacingAndGlyphs">PA</text>
<text x="849" y="192" textLength="21" lengthAdjust="spacingAndGlyphs">NY</text>
<text x="875" y="118" textLength="21" lengthAdjust="spacingAndGlyphs">VT</text>
<text x="933" y="117" textLength="22.5" lengthAdjust="spacingAndGlyphs">ME</text>
<text x="945" y="174" textLength="23" lengthAdjust="spacingAndGlyphs">NH</text>
<text x="960" y="198" textLength="25" lengthAdjust="spacingAndGlyphs">MA</text>
<text x="939" y="225" textLength="15" lengthAdjust="spacingAndGlyphs">RI</text>
<text x="916" y="233" textLength="21" lengthAdjust="spacingAndGlyphs">CT</text>
<text x="902" y="253" textLength="20" lengthAdjust="spacingAndGlyphs">NJ</text>
<text x="900" y="286" textLength="20" lengthAdjust="spacingAndGlyphs">DE</text>
<text x="897" y="312" textLength="24" lengthAdjust="spacingAndGlyphs">MD</text>
<text x="825" y="361" textLength="23" lengthAdjust="spacingAndGlyphs">NC</text>
<text x="218" y="405" textLength="20" lengthAdjust="spacingAndGlyphs">AZ</text>
<text x="320" y="432" textLength="26" lengthAdjust="spacingAndGlyphs">NM</text>
<text x="454" y="478" textLength="21" lengthAdjust="spacingAndGlyphs">TX</text>
<text x="487" y="395" textLength="23" lengthAdjust="spacingAndGlyphs">OK</text>
<text x="682" y="385" textLength="21" lengthAdjust="spacingAndGlyphs">TN</text>
<text x="575" y="410" textLength="22" lengthAdjust="spacingAndGlyphs">AR</text>
<text x="785" y="412" textLength="19" lengthAdjust="spacingAndGlyphs">SC</text>
<text x="685" y="450" textLength="21" lengthAdjust="spacingAndGlyphs">AL</text>
<text x="746" y="445" textLength="23" lengthAdjust="spacingAndGlyphs">GA</text>
<text x="628" y="464" textLength="22" lengthAdjust="spacingAndGlyphs">MS</text>
<text x="577" y="499" textLength="19" lengthAdjust="spacingAndGlyphs">LA</text>
<text x="794" y="543" textLength="19" lengthAdjust="spacingAndGlyphs">FL</text>
</g>
<g>
<circle cx="963.5" cy="600" r="26.8" fill="#fff"/>
<circle cx="963.5" cy="600" r="26.3" fill="#0a7bc4"/>
<path d="M943.3,583.2 A26.3,26.3 0 0 1 984.2,583.8 C979,586 975,595 970,602 C967,606 964,607 961,606 C955,603 950,594 943.3,583.2Z" fill="#27407f"/>
<path d="M937.6,594.5 C939,589 941,586 943.3,583.2 C950,590 954,600 960,604 C963,606 966,606 969,603 C974,597 977,588 984.2,583.8 C985.5,585.5 986.5,587.5 987.2,589.5 C981,592 978,600 973,605.5 C969,608 972,605.5 974.5,605.5 C971,607 964,609 956,611.5 C957.5,610 961,608.5 963,607.5 C957,607 950,603 946,599 C943,596 940,594.5 937.6,594.5Z" fill="#fff"/>
<text x="962.6" y="590.8" font-family="'Liberation Sans',sans-serif" font-weight="700" font-size="8.6" fill="#fff" text-anchor="middle" textLength="21.5" lengthAdjust="spacingAndGlyphs">NOAA</text>
</g>
<rect x="0" y="636" width="1000" height="80" fill="#fff"/>
<g font-family="'Liberation Sans', sans-serif" font-size="16.7" fill="#999">
<text x="1.2" y="653.2" textLength="133.3" lengthAdjust="spacingAndGlyphs">January 25, 2022</text>
<text x="856.5" y="653.4" textLength="144.5" lengthAdjust="spacingAndGlyphs">NOAA Climate.gov</text>
<text x="856.5" y="672.8" textLength="92.6" lengthAdjust="spacingAndGlyphs">Data: NDMC</text>
</g>
<rect x="169.6" y="650.2" width="662.2" height="20.4" fill="#333"/>
<rect x="170.9" y="651.6" width="110.0" height="17.7" fill="#b0b0b0"/>
<rect x="280.9" y="651.6" width="110.3" height="17.7" fill="#ffff00"/>
<rect x="391.2" y="651.6" width="110.0" height="17.7" fill="#fcd37f"/>
<rect x="501.2" y="651.6" width="110.0" height="17.7" fill="#ffaa00"/>
<rect x="611.2" y="651.6" width="110.3" height="17.7" fill="#e60000"/>
<rect x="721.5" y="651.6" width="109.0" height="17.7" fill="#730000"/>
<g font-family="'Liberation Sans', sans-serif" font-size="16" fill="#333" text-anchor="middle">
<text x="225.1" y="689.5" textLength="19.8" lengthAdjust="spacingAndGlyphs">No</text>
<text x="225.1" y="706" textLength="61.6" lengthAdjust="spacingAndGlyphs">Drought</text>
<text x="336" y="689.5" textLength="88.4" lengthAdjust="spacingAndGlyphs">Abnormally</text>
<text x="336" y="706" textLength="25.3" lengthAdjust="spacingAndGlyphs">Dry</text>
<text x="446" y="689.5" textLength="74.4" lengthAdjust="spacingAndGlyphs">Moderate</text>
<text x="446" y="706" textLength="62" lengthAdjust="spacingAndGlyphs">Drought</text>
<text x="556" y="689.5" textLength="52.4" lengthAdjust="spacingAndGlyphs">Severe</text>
<text x="556" y="706" textLength="61.6" lengthAdjust="spacingAndGlyphs">Drought</text>
<text x="666.3" y="689.5" textLength="65.2" lengthAdjust="spacingAndGlyphs">Extreme</text>
<text x="666.3" y="706" textLength="62" lengthAdjust="spacingAndGlyphs">Drought</text>
<text x="776.4" y="689.5" textLength="91.6" lengthAdjust="spacingAndGlyphs">Exceptional</text>
<text x="776.4" y="706" textLength="61.6" lengthAdjust="spacingAndGlyphs">Drought</text>
</g>
</svg>
</body></html>
